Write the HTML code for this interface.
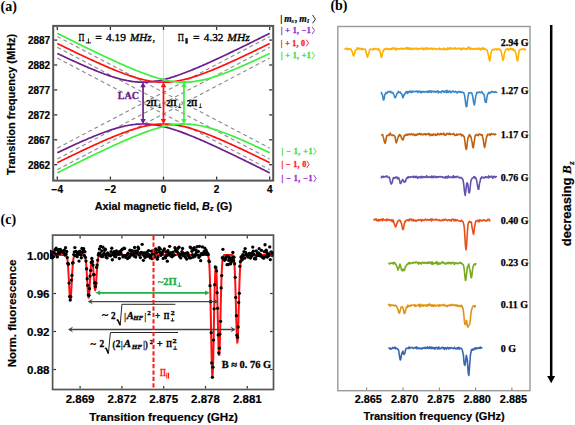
<!DOCTYPE html>
<html><head><meta charset="utf-8"><style>html,body{margin:0;padding:0;background:#fff;overflow:hidden}svg{display:block}</style></head>
<body><svg width="575" height="425" viewBox="0 0 575 425"><rect x="0" y="0" width="575" height="425" fill="#fff"/>
<line x1="163.5" y1="27" x2="163.5" y2="179.6" stroke="#d8d8d8" stroke-width="1"/>
<path d="M57.30,148.15 L269.70,36.51" stroke="#8a8a8a" stroke-width="1.1" stroke-dasharray="4,3" fill="none"/>
<path d="M57.30,58.04 L269.70,169.68" stroke="#8a8a8a" stroke-width="1.1" stroke-dasharray="4,3" fill="none"/>
<path d="M57.30,158.92 L269.70,47.28" stroke="#8a8a8a" stroke-width="1.1" stroke-dasharray="4,3" fill="none"/>
<path d="M57.30,47.28 L269.70,158.92" stroke="#8a8a8a" stroke-width="1.1" stroke-dasharray="4,3" fill="none"/>
<path d="M57.30,169.68 L269.70,58.04" stroke="#8a8a8a" stroke-width="1.1" stroke-dasharray="4,3" fill="none"/>
<path d="M57.30,36.51 L269.70,148.15" stroke="#8a8a8a" stroke-width="1.1" stroke-dasharray="4,3" fill="none"/>
<path d="M57.30,53.44 L58.63,54.07 L59.95,54.70 L61.28,55.33 L62.61,55.96 L63.94,56.58 L65.26,57.20 L66.59,57.82 L67.92,58.44 L69.25,59.06 L70.58,59.67 L71.90,60.28 L73.23,60.89 L74.56,61.49 L75.89,62.09 L77.21,62.69 L78.54,63.29 L79.87,63.88 L81.19,64.47 L82.52,65.06 L83.85,65.64 L85.18,66.21 L86.50,66.79 L87.83,67.36 L89.16,67.92 L90.49,68.48 L91.81,69.03 L93.14,69.58 L94.47,70.12 L95.80,70.66 L97.12,71.19 L98.45,71.72 L99.78,72.23 L101.11,72.74 L102.44,73.25 L103.76,73.74 L105.09,74.23 L106.42,74.70 L107.75,75.17 L109.07,75.63 L110.40,76.08 L111.73,76.52 L113.06,76.94 L114.38,77.36 L115.71,77.76 L117.04,78.15 L118.37,78.52 L119.69,78.88 L121.02,79.23 L122.35,79.56 L123.67,79.87 L125.00,80.17 L126.33,80.45 L127.66,80.71 L128.99,80.95 L130.31,81.17 L131.64,81.38 L132.97,81.56 L134.30,81.72 L135.62,81.86 L136.95,81.97 L138.28,82.07 L139.60,82.14 L140.93,82.19 L142.26,82.21 L143.59,82.21 L144.92,82.19 L146.24,82.15 L147.57,82.08 L148.90,81.99 L150.22,81.87 L151.55,81.74 L152.88,81.58 L154.21,81.40 L155.53,81.20 L156.86,80.98 L158.19,80.74 L159.52,80.49 L160.84,80.21 L162.17,79.91 L163.50,79.60 L164.83,79.28 L166.16,78.93 L167.48,78.57 L168.81,78.20 L170.14,77.81 L171.47,77.41 L172.79,77.00 L174.12,76.58 L175.45,76.14 L176.78,75.69 L178.10,75.24 L179.43,74.77 L180.76,74.30 L182.09,73.81 L183.41,73.32 L184.74,72.82 L186.07,72.31 L187.40,71.79 L188.72,71.27 L190.05,70.74 L191.38,70.20 L192.71,69.66 L194.03,69.11 L195.36,68.56 L196.69,68.00 L198.02,67.44 L199.34,66.87 L200.67,66.30 L202.00,65.72 L203.32,65.14 L204.65,64.55 L205.98,63.97 L207.31,63.37 L208.63,62.78 L209.96,62.18 L211.29,61.58 L212.62,60.97 L213.94,60.37 L215.27,59.76 L216.60,59.14 L217.93,58.53 L219.26,57.91 L220.58,57.29 L221.91,56.67 L223.24,56.05 L224.57,55.42 L225.89,54.79 L227.22,54.16 L228.55,53.53 L229.88,52.89 L231.20,52.26 L232.53,51.62 L233.86,50.98 L235.19,50.34 L236.51,49.70 L237.84,49.06 L239.17,48.42 L240.50,47.77 L241.82,47.12 L243.15,46.48 L244.48,45.83 L245.81,45.18 L247.13,44.52 L248.46,43.87 L249.79,43.22 L251.12,42.56 L252.44,41.91 L253.77,41.25 L255.10,40.60 L256.43,39.94 L257.75,39.28 L259.08,38.62 L260.41,37.96 L261.74,37.30 L263.06,36.63 L264.39,35.97 L265.72,35.31 L267.05,34.64 L268.37,33.98 L269.70,33.31" stroke="#6e1e8c" stroke-width="1.7" fill="none"/>
<path d="M57.30,152.76 L58.63,152.13 L59.95,151.49 L61.28,150.87 L62.61,150.24 L63.94,149.62 L65.26,148.99 L66.59,148.37 L67.92,147.75 L69.25,147.14 L70.58,146.53 L71.90,145.92 L73.23,145.31 L74.56,144.70 L75.89,144.10 L77.21,143.50 L78.54,142.91 L79.87,142.31 L81.19,141.73 L82.52,141.14 L83.85,140.56 L85.18,139.98 L86.50,139.41 L87.83,138.84 L89.16,138.28 L90.49,137.72 L91.81,137.16 L93.14,136.61 L94.47,136.07 L95.80,135.53 L97.12,135.00 L98.45,134.48 L99.78,133.96 L101.11,133.45 L102.44,132.95 L103.76,132.46 L105.09,131.97 L106.42,131.49 L107.75,131.02 L109.07,130.57 L110.40,130.12 L111.73,129.68 L113.06,129.25 L114.38,128.84 L115.71,128.44 L117.04,128.05 L118.37,127.67 L119.69,127.31 L121.02,126.97 L122.35,126.64 L123.67,126.32 L125.00,126.03 L126.33,125.75 L127.66,125.49 L128.99,125.25 L130.31,125.02 L131.64,124.82 L132.97,124.64 L134.30,124.48 L135.62,124.34 L136.95,124.22 L138.28,124.13 L139.60,124.06 L140.93,124.01 L142.26,123.98 L143.59,123.98 L144.92,124.00 L146.24,124.05 L147.57,124.12 L148.90,124.21 L150.22,124.32 L151.55,124.46 L152.88,124.61 L154.21,124.79 L155.53,124.99 L156.86,125.21 L158.19,125.45 L159.52,125.71 L160.84,125.99 L162.17,126.28 L163.50,126.59 L164.83,126.92 L166.16,127.26 L167.48,127.62 L168.81,128.00 L170.14,128.38 L171.47,128.78 L172.79,129.19 L174.12,129.62 L175.45,130.05 L176.78,130.50 L178.10,130.96 L179.43,131.42 L180.76,131.90 L182.09,132.39 L183.41,132.88 L184.74,133.38 L186.07,133.89 L187.40,134.41 L188.72,134.93 L190.05,135.46 L191.38,135.99 L192.71,136.54 L194.03,137.08 L195.36,137.64 L196.69,138.20 L198.02,138.76 L199.34,139.33 L200.67,139.90 L202.00,140.48 L203.32,141.06 L204.65,141.64 L205.98,142.23 L207.31,142.82 L208.63,143.42 L209.96,144.02 L211.29,144.62 L212.62,145.22 L213.94,145.83 L215.27,146.44 L216.60,147.05 L217.93,147.67 L219.26,148.28 L220.58,148.90 L221.91,149.53 L223.24,150.15 L224.57,150.78 L225.89,151.40 L227.22,152.04 L228.55,152.67 L229.88,153.30 L231.20,153.94 L232.53,154.57 L233.86,155.21 L235.19,155.85 L236.51,156.49 L237.84,157.14 L239.17,157.78 L240.50,158.43 L241.82,159.07 L243.15,159.72 L244.48,160.37 L245.81,161.02 L247.13,161.67 L248.46,162.32 L249.79,162.98 L251.12,163.63 L252.44,164.29 L253.77,164.94 L255.10,165.60 L256.43,166.26 L257.75,166.92 L259.08,167.58 L260.41,168.24 L261.74,168.90 L263.06,169.56 L264.39,170.22 L265.72,170.89 L267.05,171.55 L268.37,172.22 L269.70,172.88" stroke="#6e1e8c" stroke-width="1.7" fill="none"/>
<path d="M57.30,43.50 L58.63,44.15 L59.95,44.80 L61.28,45.45 L62.61,46.10 L63.94,46.75 L65.26,47.40 L66.59,48.05 L67.92,48.69 L69.25,49.34 L70.58,49.98 L71.90,50.62 L73.23,51.26 L74.56,51.90 L75.89,52.53 L77.21,53.17 L78.54,53.80 L79.87,54.43 L81.19,55.06 L82.52,55.69 L83.85,56.31 L85.18,56.94 L86.50,57.56 L87.83,58.18 L89.16,58.79 L90.49,59.41 L91.81,60.02 L93.14,60.63 L94.47,61.23 L95.80,61.84 L97.12,62.44 L98.45,63.03 L99.78,63.63 L101.11,64.22 L102.44,64.81 L103.76,65.39 L105.09,65.97 L106.42,66.54 L107.75,67.11 L109.07,67.68 L110.40,68.24 L111.73,68.80 L113.06,69.35 L114.38,69.89 L115.71,70.43 L117.04,70.97 L118.37,71.49 L119.69,72.01 L121.02,72.53 L122.35,73.03 L123.67,73.53 L125.00,74.02 L126.33,74.50 L127.66,74.97 L128.99,75.44 L130.31,75.89 L131.64,76.33 L132.97,76.76 L134.30,77.18 L135.62,77.59 L136.95,77.98 L138.28,78.36 L139.60,78.73 L140.93,79.08 L142.26,79.42 L143.59,79.74 L144.92,80.04 L146.24,80.33 L147.57,80.60 L148.90,80.85 L150.22,81.08 L151.55,81.29 L152.88,81.48 L154.21,81.65 L155.53,81.80 L156.86,81.93 L158.19,82.03 L159.52,82.11 L160.84,82.17 L162.17,82.20 L163.50,82.21 L164.83,82.20 L166.16,82.17 L167.48,82.11 L168.81,82.03 L170.14,81.93 L171.47,81.80 L172.79,81.65 L174.12,81.48 L175.45,81.29 L176.78,81.08 L178.10,80.85 L179.43,80.60 L180.76,80.33 L182.09,80.04 L183.41,79.74 L184.74,79.42 L186.07,79.08 L187.40,78.73 L188.72,78.36 L190.05,77.98 L191.38,77.59 L192.71,77.18 L194.03,76.76 L195.36,76.33 L196.69,75.89 L198.02,75.44 L199.34,74.97 L200.67,74.50 L202.00,74.02 L203.32,73.53 L204.65,73.03 L205.98,72.53 L207.31,72.01 L208.63,71.49 L209.96,70.97 L211.29,70.43 L212.62,69.89 L213.94,69.35 L215.27,68.80 L216.60,68.24 L217.93,67.68 L219.26,67.11 L220.58,66.54 L221.91,65.97 L223.24,65.39 L224.57,64.81 L225.89,64.22 L227.22,63.63 L228.55,63.03 L229.88,62.44 L231.20,61.84 L232.53,61.23 L233.86,60.63 L235.19,60.02 L236.51,59.41 L237.84,58.79 L239.17,58.18 L240.50,57.56 L241.82,56.94 L243.15,56.31 L244.48,55.69 L245.81,55.06 L247.13,54.43 L248.46,53.80 L249.79,53.17 L251.12,52.53 L252.44,51.90 L253.77,51.26 L255.10,50.62 L256.43,49.98 L257.75,49.34 L259.08,48.69 L260.41,48.05 L261.74,47.40 L263.06,46.75 L264.39,46.10 L265.72,45.45 L267.05,44.80 L268.37,44.15 L269.70,43.50" stroke="#ff1010" stroke-width="1.7" fill="none"/>
<path d="M57.30,162.70 L58.63,162.04 L59.95,161.39 L61.28,160.74 L62.61,160.09 L63.94,159.44 L65.26,158.80 L66.59,158.15 L67.92,157.50 L69.25,156.86 L70.58,156.22 L71.90,155.58 L73.23,154.94 L74.56,154.30 L75.89,153.66 L77.21,153.03 L78.54,152.40 L79.87,151.76 L81.19,151.14 L82.52,150.51 L83.85,149.88 L85.18,149.26 L86.50,148.64 L87.83,148.02 L89.16,147.40 L90.49,146.79 L91.81,146.18 L93.14,145.57 L94.47,144.96 L95.80,144.36 L97.12,143.76 L98.45,143.16 L99.78,142.57 L101.11,141.98 L102.44,141.39 L103.76,140.81 L105.09,140.23 L106.42,139.65 L107.75,139.08 L109.07,138.52 L110.40,137.96 L111.73,137.40 L113.06,136.85 L114.38,136.30 L115.71,135.76 L117.04,135.23 L118.37,134.70 L119.69,134.18 L121.02,133.67 L122.35,133.16 L123.67,132.67 L125.00,132.18 L126.33,131.70 L127.66,131.22 L128.99,130.76 L130.31,130.31 L131.64,129.87 L132.97,129.44 L134.30,129.02 L135.62,128.61 L136.95,128.21 L138.28,127.83 L139.60,127.47 L140.93,127.11 L142.26,126.78 L143.59,126.46 L144.92,126.15 L146.24,125.87 L147.57,125.60 L148.90,125.35 L150.22,125.12 L151.55,124.90 L152.88,124.71 L154.21,124.54 L155.53,124.40 L156.86,124.27 L158.19,124.17 L159.52,124.09 L160.84,124.03 L162.17,123.99 L163.50,123.98 L164.83,123.99 L166.16,124.03 L167.48,124.09 L168.81,124.17 L170.14,124.27 L171.47,124.40 L172.79,124.54 L174.12,124.71 L175.45,124.90 L176.78,125.12 L178.10,125.35 L179.43,125.60 L180.76,125.87 L182.09,126.15 L183.41,126.46 L184.74,126.78 L186.07,127.11 L187.40,127.47 L188.72,127.83 L190.05,128.21 L191.38,128.61 L192.71,129.02 L194.03,129.44 L195.36,129.87 L196.69,130.31 L198.02,130.76 L199.34,131.22 L200.67,131.70 L202.00,132.18 L203.32,132.67 L204.65,133.16 L205.98,133.67 L207.31,134.18 L208.63,134.70 L209.96,135.23 L211.29,135.76 L212.62,136.30 L213.94,136.85 L215.27,137.40 L216.60,137.96 L217.93,138.52 L219.26,139.08 L220.58,139.65 L221.91,140.23 L223.24,140.81 L224.57,141.39 L225.89,141.98 L227.22,142.57 L228.55,143.16 L229.88,143.76 L231.20,144.36 L232.53,144.96 L233.86,145.57 L235.19,146.18 L236.51,146.79 L237.84,147.40 L239.17,148.02 L240.50,148.64 L241.82,149.26 L243.15,149.88 L244.48,150.51 L245.81,151.14 L247.13,151.76 L248.46,152.40 L249.79,153.03 L251.12,153.66 L252.44,154.30 L253.77,154.94 L255.10,155.58 L256.43,156.22 L257.75,156.86 L259.08,157.50 L260.41,158.15 L261.74,158.80 L263.06,159.44 L264.39,160.09 L265.72,160.74 L267.05,161.39 L268.37,162.04 L269.70,162.70" stroke="#ff1010" stroke-width="1.7" fill="none"/>
<path d="M57.30,33.31 L58.63,33.98 L59.95,34.64 L61.28,35.31 L62.61,35.97 L63.94,36.63 L65.26,37.30 L66.59,37.96 L67.92,38.62 L69.25,39.28 L70.58,39.94 L71.90,40.60 L73.23,41.25 L74.56,41.91 L75.89,42.56 L77.21,43.22 L78.54,43.87 L79.87,44.52 L81.19,45.18 L82.52,45.83 L83.85,46.48 L85.18,47.12 L86.50,47.77 L87.83,48.42 L89.16,49.06 L90.49,49.70 L91.81,50.34 L93.14,50.98 L94.47,51.62 L95.80,52.26 L97.12,52.89 L98.45,53.53 L99.78,54.16 L101.11,54.79 L102.44,55.42 L103.76,56.05 L105.09,56.67 L106.42,57.29 L107.75,57.91 L109.07,58.53 L110.40,59.14 L111.73,59.76 L113.06,60.37 L114.38,60.97 L115.71,61.58 L117.04,62.18 L118.37,62.78 L119.69,63.37 L121.02,63.97 L122.35,64.55 L123.67,65.14 L125.00,65.72 L126.33,66.30 L127.66,66.87 L128.99,67.44 L130.31,68.00 L131.64,68.56 L132.97,69.11 L134.30,69.66 L135.62,70.20 L136.95,70.74 L138.28,71.27 L139.60,71.79 L140.93,72.31 L142.26,72.82 L143.59,73.32 L144.92,73.81 L146.24,74.30 L147.57,74.77 L148.90,75.24 L150.22,75.69 L151.55,76.14 L152.88,76.58 L154.21,77.00 L155.53,77.41 L156.86,77.81 L158.19,78.20 L159.52,78.57 L160.84,78.93 L162.17,79.28 L163.50,79.60 L164.83,79.91 L166.16,80.21 L167.48,80.49 L168.81,80.74 L170.14,80.98 L171.47,81.20 L172.79,81.40 L174.12,81.58 L175.45,81.74 L176.78,81.87 L178.10,81.99 L179.43,82.08 L180.76,82.15 L182.09,82.19 L183.41,82.21 L184.74,82.21 L186.07,82.19 L187.40,82.14 L188.72,82.07 L190.05,81.97 L191.38,81.86 L192.71,81.72 L194.03,81.56 L195.36,81.38 L196.69,81.17 L198.02,80.95 L199.34,80.71 L200.67,80.45 L202.00,80.17 L203.32,79.87 L204.65,79.56 L205.98,79.23 L207.31,78.88 L208.63,78.52 L209.96,78.15 L211.29,77.76 L212.62,77.36 L213.94,76.94 L215.27,76.52 L216.60,76.08 L217.93,75.63 L219.26,75.17 L220.58,74.70 L221.91,74.23 L223.24,73.74 L224.57,73.25 L225.89,72.74 L227.22,72.23 L228.55,71.72 L229.88,71.19 L231.20,70.66 L232.53,70.12 L233.86,69.58 L235.19,69.03 L236.51,68.48 L237.84,67.92 L239.17,67.36 L240.50,66.79 L241.82,66.21 L243.15,65.64 L244.48,65.06 L245.81,64.47 L247.13,63.88 L248.46,63.29 L249.79,62.69 L251.12,62.09 L252.44,61.49 L253.77,60.89 L255.10,60.28 L256.43,59.67 L257.75,59.06 L259.08,58.44 L260.41,57.82 L261.74,57.20 L263.06,56.58 L264.39,55.96 L265.72,55.33 L267.05,54.70 L268.37,54.07 L269.70,53.44" stroke="#3df03d" stroke-width="1.7" fill="none"/>
<path d="M57.30,172.88 L58.63,172.22 L59.95,171.55 L61.28,170.89 L62.61,170.22 L63.94,169.56 L65.26,168.90 L66.59,168.24 L67.92,167.58 L69.25,166.92 L70.58,166.26 L71.90,165.60 L73.23,164.94 L74.56,164.29 L75.89,163.63 L77.21,162.98 L78.54,162.32 L79.87,161.67 L81.19,161.02 L82.52,160.37 L83.85,159.72 L85.18,159.07 L86.50,158.43 L87.83,157.78 L89.16,157.14 L90.49,156.49 L91.81,155.85 L93.14,155.21 L94.47,154.57 L95.80,153.94 L97.12,153.30 L98.45,152.67 L99.78,152.04 L101.11,151.40 L102.44,150.78 L103.76,150.15 L105.09,149.53 L106.42,148.90 L107.75,148.28 L109.07,147.67 L110.40,147.05 L111.73,146.44 L113.06,145.83 L114.38,145.22 L115.71,144.62 L117.04,144.02 L118.37,143.42 L119.69,142.82 L121.02,142.23 L122.35,141.64 L123.67,141.06 L125.00,140.48 L126.33,139.90 L127.66,139.33 L128.99,138.76 L130.31,138.20 L131.64,137.64 L132.97,137.08 L134.30,136.54 L135.62,135.99 L136.95,135.46 L138.28,134.93 L139.60,134.41 L140.93,133.89 L142.26,133.38 L143.59,132.88 L144.92,132.39 L146.24,131.90 L147.57,131.42 L148.90,130.96 L150.22,130.50 L151.55,130.05 L152.88,129.62 L154.21,129.19 L155.53,128.78 L156.86,128.38 L158.19,128.00 L159.52,127.62 L160.84,127.26 L162.17,126.92 L163.50,126.59 L164.83,126.28 L166.16,125.99 L167.48,125.71 L168.81,125.45 L170.14,125.21 L171.47,124.99 L172.79,124.79 L174.12,124.61 L175.45,124.46 L176.78,124.32 L178.10,124.21 L179.43,124.12 L180.76,124.05 L182.09,124.00 L183.41,123.98 L184.74,123.98 L186.07,124.01 L187.40,124.06 L188.72,124.13 L190.05,124.22 L191.38,124.34 L192.71,124.48 L194.03,124.64 L195.36,124.82 L196.69,125.02 L198.02,125.25 L199.34,125.49 L200.67,125.75 L202.00,126.03 L203.32,126.32 L204.65,126.64 L205.98,126.97 L207.31,127.31 L208.63,127.67 L209.96,128.05 L211.29,128.44 L212.62,128.84 L213.94,129.25 L215.27,129.68 L216.60,130.12 L217.93,130.57 L219.26,131.02 L220.58,131.49 L221.91,131.97 L223.24,132.46 L224.57,132.95 L225.89,133.45 L227.22,133.96 L228.55,134.48 L229.88,135.00 L231.20,135.53 L232.53,136.07 L233.86,136.61 L235.19,137.16 L236.51,137.72 L237.84,138.28 L239.17,138.84 L240.50,139.41 L241.82,139.98 L243.15,140.56 L244.48,141.14 L245.81,141.73 L247.13,142.31 L248.46,142.91 L249.79,143.50 L251.12,144.10 L252.44,144.70 L253.77,145.31 L255.10,145.92 L256.43,146.53 L257.75,147.14 L259.08,147.75 L260.41,148.37 L261.74,148.99 L263.06,149.62 L264.39,150.24 L265.72,150.87 L267.05,151.49 L268.37,152.13 L269.70,152.76" stroke="#3df03d" stroke-width="1.7" fill="none"/>
<rect x="53.2" y="25.9" width="220" height="154.7" fill="none" stroke="#555" stroke-width="2"/>
<line x1="57.3" y1="179.6" x2="57.3" y2="176.6" stroke="#333" stroke-width="1.3"/>
<line x1="57.3" y1="26.9" x2="57.3" y2="29.9" stroke="#333" stroke-width="1.3"/>
<text x="57.3" y="193.2" font-family='"Liberation Sans", sans-serif' font-size="10" font-weight="bold" text-anchor="middle" stroke="#000" stroke-width="0.2">−4</text>
<line x1="110.4" y1="179.6" x2="110.4" y2="176.6" stroke="#333" stroke-width="1.3"/>
<line x1="110.4" y1="26.9" x2="110.4" y2="29.9" stroke="#333" stroke-width="1.3"/>
<text x="110.4" y="193.2" font-family='"Liberation Sans", sans-serif' font-size="10" font-weight="bold" text-anchor="middle" stroke="#000" stroke-width="0.2">−2</text>
<line x1="163.5" y1="179.6" x2="163.5" y2="176.6" stroke="#333" stroke-width="1.3"/>
<line x1="163.5" y1="26.9" x2="163.5" y2="29.9" stroke="#333" stroke-width="1.3"/>
<text x="163.5" y="193.2" font-family='"Liberation Sans", sans-serif' font-size="10" font-weight="bold" text-anchor="middle" stroke="#000" stroke-width="0.2">0</text>
<line x1="216.6" y1="179.6" x2="216.6" y2="176.6" stroke="#333" stroke-width="1.3"/>
<line x1="216.6" y1="26.9" x2="216.6" y2="29.9" stroke="#333" stroke-width="1.3"/>
<text x="216.6" y="193.2" font-family='"Liberation Sans", sans-serif' font-size="10" font-weight="bold" text-anchor="middle" stroke="#000" stroke-width="0.2">2</text>
<line x1="269.7" y1="179.6" x2="269.7" y2="176.6" stroke="#333" stroke-width="1.3"/>
<line x1="269.7" y1="26.9" x2="269.7" y2="29.9" stroke="#333" stroke-width="1.3"/>
<text x="269.7" y="193.2" font-family='"Liberation Sans", sans-serif' font-size="10" font-weight="bold" text-anchor="middle" stroke="#000" stroke-width="0.2">4</text>
<line x1="54.2" y1="164.7" x2="57.2" y2="164.7" stroke="#333" stroke-width="1.3"/>
<line x1="272.2" y1="164.7" x2="269.2" y2="164.7" stroke="#333" stroke-width="1.3"/>
<text x="50.2" y="168.6" font-family='"Liberation Sans", sans-serif' font-size="10" font-weight="bold" text-anchor="end" stroke="#000" stroke-width="0.2">2862</text>
<line x1="54.2" y1="139.8" x2="57.2" y2="139.8" stroke="#333" stroke-width="1.3"/>
<line x1="272.2" y1="139.8" x2="269.2" y2="139.8" stroke="#333" stroke-width="1.3"/>
<text x="50.2" y="143.7" font-family='"Liberation Sans", sans-serif' font-size="10" font-weight="bold" text-anchor="end" stroke="#000" stroke-width="0.2">2867</text>
<line x1="54.2" y1="114.9" x2="57.2" y2="114.9" stroke="#333" stroke-width="1.3"/>
<line x1="272.2" y1="114.9" x2="269.2" y2="114.9" stroke="#333" stroke-width="1.3"/>
<text x="50.2" y="118.8" font-family='"Liberation Sans", sans-serif' font-size="10" font-weight="bold" text-anchor="end" stroke="#000" stroke-width="0.2">2872</text>
<line x1="54.2" y1="89.9" x2="57.2" y2="89.9" stroke="#333" stroke-width="1.3"/>
<line x1="272.2" y1="89.9" x2="269.2" y2="89.9" stroke="#333" stroke-width="1.3"/>
<text x="50.2" y="93.8" font-family='"Liberation Sans", sans-serif' font-size="10" font-weight="bold" text-anchor="end" stroke="#000" stroke-width="0.2">2877</text>
<line x1="54.2" y1="65.0" x2="57.2" y2="65.0" stroke="#333" stroke-width="1.3"/>
<line x1="272.2" y1="65.0" x2="269.2" y2="65.0" stroke="#333" stroke-width="1.3"/>
<text x="50.2" y="68.9" font-family='"Liberation Sans", sans-serif' font-size="10" font-weight="bold" text-anchor="end" stroke="#000" stroke-width="0.2">2882</text>
<line x1="54.2" y1="40.1" x2="57.2" y2="40.1" stroke="#333" stroke-width="1.3"/>
<line x1="272.2" y1="40.1" x2="269.2" y2="40.1" stroke="#333" stroke-width="1.3"/>
<text x="50.2" y="44.0" font-family='"Liberation Sans", sans-serif' font-size="10" font-weight="bold" text-anchor="end" stroke="#000" stroke-width="0.2">2887</text>
<text x="94.8" y="209.9" font-family='"Liberation Sans", sans-serif' font-size="10.8" font-weight="bold" textLength="137.3" lengthAdjust="spacingAndGlyphs" stroke="#000" stroke-width="0.2">Axial magnetic field, <tspan font-style="italic">B<tspan font-size="7.5" dy="1.5">z</tspan></tspan><tspan dy="-1.5"> (G)</tspan></text>
<text transform="translate(15.2,104.3) rotate(-90)" font-family='"Liberation Sans", sans-serif' font-size="11" font-weight="bold" text-anchor="middle" stroke="#000" stroke-width="0.2">Transition frequency (MHz)</text>
<line x1="143.0565" y1="86.8147999999991" x2="143.0565" y2="119.38071999999964" stroke="#6e1e8c" stroke-width="1.7"/><path d="M143.0565,81.91479999999909 L140.3565,87.3147999999991 L145.7565,87.3147999999991 Z" fill="#6e1e8c"/><path d="M143.0565,124.28071999999965 L140.3565,118.88071999999964 L145.7565,118.88071999999964 Z" fill="#6e1e8c"/>
<line x1="163.5" y1="86.8147999999991" x2="163.5" y2="119.38071999999964" stroke="#ff1010" stroke-width="1.7"/><path d="M163.5,81.91479999999909 L160.8,87.3147999999991 L166.2,87.3147999999991 Z" fill="#ff1010"/><path d="M163.5,124.28071999999965 L160.8,118.88071999999964 L166.2,118.88071999999964 Z" fill="#ff1010"/>
<line x1="183.9435" y1="86.8147999999991" x2="183.9435" y2="119.38071999999964" stroke="#3df03d" stroke-width="1.7"/><path d="M183.9435,81.91479999999909 L181.2435,87.3147999999991 L186.6435,87.3147999999991 Z" fill="#3df03d"/><path d="M183.9435,124.28071999999965 L181.2435,118.88071999999964 L186.6435,118.88071999999964 Z" fill="#3df03d"/>
<text x="117.8" y="99.1" font-family='"Liberation Serif", serif' font-size="10.4" font-weight="bold" fill="#6a1b8a" textLength="21.2" lengthAdjust="spacingAndGlyphs" stroke="#6a1b8a" stroke-width="0.3">LAC</text>
<text x="146.4" y="106.1" font-family='"Liberation Serif", serif' font-size="8.4" font-weight="bold" textLength="10.2" lengthAdjust="spacingAndGlyphs" stroke="#000" stroke-width="0.35">2Π</text>
<path d="M159.85,103.40 L159.85,107.90 M158.30,107.53 L161.40,107.53" stroke="#000" stroke-width="0.75" fill="none"/>
<text x="166.3" y="106.1" font-family='"Liberation Serif", serif' font-size="8.4" font-weight="bold" textLength="10.2" lengthAdjust="spacingAndGlyphs" stroke="#000" stroke-width="0.35">2Π</text>
<path d="M179.75,103.40 L179.75,107.90 M178.20,107.53 L181.30,107.53" stroke="#000" stroke-width="0.75" fill="none"/>
<text x="186.9" y="106.1" font-family='"Liberation Serif", serif' font-size="8.4" font-weight="bold" textLength="10.2" lengthAdjust="spacingAndGlyphs" stroke="#000" stroke-width="0.35">2Π</text>
<path d="M200.35,103.40 L200.35,107.90 M198.80,107.53 L201.90,107.53" stroke="#000" stroke-width="0.75" fill="none"/>
<text x="78.5" y="41.2" font-family='"Liberation Serif", serif' font-size="10.5" textLength="5.9" lengthAdjust="spacingAndGlyphs" stroke="#000" stroke-width="0.35">Π</text>
<path d="M88.40,38.40 L88.40,43.30 M85.80,42.85 L91.00,42.85" stroke="#000" stroke-width="0.9" fill="none"/>
<text x="95.2" y="41.2" font-family='"Liberation Serif", serif' font-size="10.5" textLength="6.6" lengthAdjust="spacingAndGlyphs" stroke="#000" stroke-width="0.35">=</text>
<text x="106" y="41.2" font-family='"Liberation Serif", serif' font-size="10.5" textLength="20.1" lengthAdjust="spacingAndGlyphs" stroke="#000" stroke-width="0.35">4.19</text>
<text x="130" y="41.2" font-family='"Liberation Serif", serif' font-size="10.5" font-style="italic" textLength="21.7" lengthAdjust="spacingAndGlyphs" stroke="#000" stroke-width="0.35">MHz</text>
<text x="152.4" y="41.2" font-family='"Liberation Serif", serif' font-size="10.5" stroke="#000" stroke-width="0.35">,</text>
<text x="177.8" y="41.2" font-family='"Liberation Serif", serif' font-size="10.5" textLength="6.2" lengthAdjust="spacingAndGlyphs" stroke="#000" stroke-width="0.35">Π</text>
<rect x="185.4" y="38.1" width="2.3" height="5.6" fill="#111"/>
<text x="193.1" y="41.2" font-family='"Liberation Serif", serif' font-size="10.5" textLength="6.6" lengthAdjust="spacingAndGlyphs" stroke="#000" stroke-width="0.35">=</text>
<text x="203.8" y="41.2" font-family='"Liberation Serif", serif' font-size="10.5" textLength="19.6" lengthAdjust="spacingAndGlyphs" stroke="#000" stroke-width="0.35">4.32</text>
<text x="227.3" y="41.2" font-family='"Liberation Serif", serif' font-size="10.5" font-style="italic" textLength="22.5" lengthAdjust="spacingAndGlyphs" stroke="#000" stroke-width="0.35">MHz</text>
<text x="280.2" y="22.3" font-family='"Liberation Serif", serif' font-size="9.6" font-weight="bold" stroke="#000" stroke-width="0.2">|</text>
<text x="284.3" y="21.6" font-family='"Liberation Serif", serif' font-size="9.6" font-weight="bold" font-style="italic" stroke="#000" stroke-width="0.2">m</text>
<text x="291.6" y="23.4" font-family='"Liberation Serif", serif' font-size="6.5" font-weight="bold" font-style="italic" stroke="#000" stroke-width="0.15">s</text>
<text x="294.8" y="21.6" font-family='"Liberation Serif", serif' font-size="9.6" font-weight="bold" stroke="#000" stroke-width="0.2">,</text>
<text x="299.2" y="21.6" font-family='"Liberation Serif", serif' font-size="9.6" font-weight="bold" font-style="italic" stroke="#000" stroke-width="0.2">m</text>
<text x="306.8" y="23.4" font-family='"Liberation Serif", serif' font-size="6.5" font-weight="bold" font-style="italic" stroke="#000" stroke-width="0.15">I</text>
<path d="M312.60,15.00 L315.40,19.15 L312.60,23.30" stroke="#111" stroke-width="0.9" fill="none" stroke-linejoin="miter"/>
<text x="280.8" y="32.9" font-family='"Liberation Serif", serif' font-size="8" font-weight="bold" fill="#9428c8" textLength="29.9" lengthAdjust="spacing" stroke="#9428c8" stroke-width="0.3">| + 1, −1</text>
<path d="M312.10,26.80 L314.50,30.45 L312.10,34.10" stroke="#9428c8" stroke-width="0.9" fill="none" stroke-linejoin="miter"/>
<text x="280.8" y="45.6" font-family='"Liberation Serif", serif' font-size="8" font-weight="bold" fill="#ff2020" textLength="24.3" lengthAdjust="spacing" stroke="#ff2020" stroke-width="0.3">| + 1, 0</text>
<path d="M306.20,39.70 L308.60,43.00 L306.20,46.30" stroke="#ff2020" stroke-width="0.9" fill="none" stroke-linejoin="miter"/>
<text x="280.8" y="58.2" font-family='"Liberation Serif", serif' font-size="8" font-weight="bold" fill="#38e038" textLength="29.9" lengthAdjust="spacing" stroke="#38e038" stroke-width="0.3">| + 1, +1</text>
<path d="M312.10,52.00 L314.50,55.40 L312.10,58.80" stroke="#38e038" stroke-width="0.9" fill="none" stroke-linejoin="miter"/>
<text x="281.5" y="153.9" font-family='"Liberation Serif", serif' font-size="8" font-weight="bold" fill="#38e038" textLength="30.9" lengthAdjust="spacing" stroke="#38e038" stroke-width="0.3">|  −  1, +1</text>
<path d="M313.70,147.70 L316.10,151.25 L313.70,154.80" stroke="#38e038" stroke-width="0.9" fill="none" stroke-linejoin="miter"/>
<text x="281.5" y="167" font-family='"Liberation Serif", serif' font-size="8" font-weight="bold" fill="#ff2020" textLength="24.8" lengthAdjust="spacing" stroke="#ff2020" stroke-width="0.3">|  −  1, 0</text>
<path d="M306.80,160.80 L309.20,164.35 L306.80,167.90" stroke="#ff2020" stroke-width="0.9" fill="none" stroke-linejoin="miter"/>
<text x="281.5" y="181.2" font-family='"Liberation Serif", serif' font-size="8" font-weight="bold" fill="#9428c8" textLength="30.9" lengthAdjust="spacing" stroke="#9428c8" stroke-width="0.3">|  −  1, −1</text>
<path d="M313.70,175.00 L316.10,178.55 L313.70,182.10" stroke="#9428c8" stroke-width="0.9" fill="none" stroke-linejoin="miter"/>
<text x="0.5" y="10.8" font-family='"Liberation Serif", serif' font-size="14" font-weight="bold">(a)</text>
<text x="330.4" y="10.4" font-family='"Liberation Serif", serif' font-size="14" font-weight="bold">(b)</text>
<text x="0.5" y="224.4" font-family='"Liberation Serif", serif' font-size="14" font-weight="bold">(c)</text>
<rect x="337.8" y="26.5" width="192.2" height="364.2" fill="none" stroke="#9a9a9a" stroke-width="1.4"/>
<line x1="366.7" y1="390" x2="366.7" y2="387.5" stroke="#777" stroke-width="1"/>
<text x="368.3" y="403.2" font-family='"Liberation Sans", sans-serif' font-size="10.9" font-weight="bold" text-anchor="middle" stroke="#000" stroke-width="0.2">2.865</text>
<line x1="403.0" y1="390" x2="403.0" y2="387.5" stroke="#777" stroke-width="1"/>
<text x="404.6" y="403.2" font-family='"Liberation Sans", sans-serif' font-size="10.9" font-weight="bold" text-anchor="middle" stroke="#000" stroke-width="0.2">2.870</text>
<line x1="439.3" y1="390" x2="439.3" y2="387.5" stroke="#777" stroke-width="1"/>
<text x="440.9" y="403.2" font-family='"Liberation Sans", sans-serif' font-size="10.9" font-weight="bold" text-anchor="middle" stroke="#000" stroke-width="0.2">2.875</text>
<line x1="475.6" y1="390" x2="475.6" y2="387.5" stroke="#777" stroke-width="1"/>
<text x="477.2" y="403.2" font-family='"Liberation Sans", sans-serif' font-size="10.9" font-weight="bold" text-anchor="middle" stroke="#000" stroke-width="0.2">2.880</text>
<line x1="511.9" y1="390" x2="511.9" y2="387.5" stroke="#777" stroke-width="1"/>
<text x="513.5" y="403.2" font-family='"Liberation Sans", sans-serif' font-size="10.9" font-weight="bold" text-anchor="middle" stroke="#000" stroke-width="0.2">2.885</text>
<text x="363.5" y="420.3" font-family='"Liberation Sans", sans-serif' font-size="11" font-weight="bold" textLength="141.1" lengthAdjust="spacingAndGlyphs" stroke="#000" stroke-width="0.2">Transition frequency (GHz)</text>
<path d="M344.30,48.87 L344.80,49.04 L345.30,48.73 L345.80,48.40 L346.30,48.65 L346.80,48.37 L347.30,48.96 L347.80,49.69 L348.30,48.70 L348.80,48.67 L349.30,49.32 L349.80,49.31 L350.30,49.27 L350.80,48.90 L351.30,49.83 L351.80,51.14 L352.30,51.62 L352.80,54.28 L353.30,55.38 L353.80,55.94 L354.30,53.97 L354.80,52.64 L355.30,50.34 L355.80,50.15 L356.30,49.58 L356.80,49.17 L357.30,47.78 L357.80,48.80 L358.30,49.03 L358.80,49.09 L359.30,48.17 L359.80,48.74 L360.30,48.46 L360.80,48.55 L361.30,49.59 L361.80,48.57 L362.30,49.02 L362.80,49.55 L363.30,48.78 L363.80,49.11 L364.30,49.34 L364.80,49.54 L365.30,49.34 L365.80,51.09 L366.30,53.53 L366.80,54.14 L367.30,57.14 L367.80,56.51 L368.30,54.20 L368.80,53.48 L369.30,51.20 L369.80,49.22 L370.30,49.49 L370.80,49.57 L371.30,49.05 L371.80,49.47 L372.30,49.02 L372.80,49.40 L373.30,49.80 L373.80,48.63 L374.30,49.11 L374.80,48.74 L375.30,49.07 L375.80,48.36 L376.30,48.72 L376.80,48.96 L377.30,49.60 L377.80,49.81 L378.30,48.58 L378.80,49.13 L379.30,50.51 L379.80,50.23 L380.30,52.94 L380.80,55.35 L381.30,57.48 L381.80,56.52 L382.30,53.90 L382.80,51.78 L383.30,50.39 L383.80,50.57 L384.30,49.13 L384.80,49.02 L385.30,49.29 L385.80,48.98 L386.30,48.89 L386.80,48.36 L387.30,48.94 L387.80,48.68 L388.30,49.55 L388.80,49.26 L389.30,48.87 L389.80,49.25 L390.30,48.68 L390.80,49.44 L391.30,48.86 L391.80,49.18 L392.30,48.14 L392.80,49.04 L393.30,47.92 L393.80,47.72 L394.30,48.67 L394.80,48.34 L395.30,48.92 L395.80,50.07 L396.30,48.37 L396.80,48.49 L397.30,48.94 L397.80,49.10 L398.30,48.73 L398.80,48.71 L399.30,49.21 L399.80,49.11 L400.30,48.25 L400.80,48.78 L401.30,48.84 L401.80,48.24 L402.30,48.96 L402.80,48.35 L403.30,49.35 L403.80,48.92 L404.30,48.87 L404.80,48.49 L405.30,48.75 L405.80,47.72 L406.30,48.19 L406.80,49.01 L407.30,47.64 L407.80,49.28 L408.30,47.85 L408.80,49.23 L409.30,48.35 L409.80,49.24 L410.30,48.88 L410.80,47.97 L411.30,49.50 L411.80,49.60 L412.30,48.77 L412.80,48.66 L413.30,48.72 L413.80,48.27 L414.30,49.41 L414.80,48.51 L415.30,48.78 L415.80,48.37 L416.30,48.47 L416.80,48.11 L417.30,49.50 L417.80,48.72 L418.30,49.34 L418.80,48.82 L419.30,48.43 L419.80,48.63 L420.30,48.50 L420.80,48.81 L421.30,48.60 L421.80,48.64 L422.30,48.05 L422.80,48.36 L423.30,49.72 L423.80,48.44 L424.30,48.23 L424.80,48.99 L425.30,49.58 L425.80,48.01 L426.30,48.69 L426.80,48.46 L427.30,47.84 L427.80,49.21 L428.30,48.80 L428.80,48.85 L429.30,48.39 L429.80,49.06 L430.30,48.51 L430.80,48.73 L431.30,48.20 L431.80,48.14 L432.30,49.54 L432.80,48.53 L433.30,48.97 L433.80,48.79 L434.30,48.57 L434.80,48.53 L435.30,49.15 L435.80,48.64 L436.30,48.72 L436.80,48.82 L437.30,49.46 L437.80,49.18 L438.30,49.02 L438.80,48.50 L439.30,48.05 L439.80,49.33 L440.30,49.34 L440.80,48.73 L441.30,49.11 L441.80,49.24 L442.30,49.27 L442.80,49.32 L443.30,48.56 L443.80,49.64 L444.30,48.12 L444.80,49.28 L445.30,49.08 L445.80,49.29 L446.30,49.84 L446.80,49.63 L447.30,48.18 L447.80,47.88 L448.30,49.26 L448.80,48.25 L449.30,48.80 L449.80,49.27 L450.30,47.91 L450.80,47.65 L451.30,48.95 L451.80,48.84 L452.30,48.68 L452.80,48.83 L453.30,48.34 L453.80,47.98 L454.30,48.72 L454.80,48.28 L455.30,47.91 L455.80,49.09 L456.30,48.78 L456.80,49.04 L457.30,48.27 L457.80,48.45 L458.30,48.26 L458.80,48.33 L459.30,48.92 L459.80,48.38 L460.30,49.01 L460.80,49.00 L461.30,49.93 L461.80,48.05 L462.30,49.31 L462.80,48.77 L463.30,48.81 L463.80,48.02 L464.30,48.57 L464.80,49.23 L465.30,48.78 L465.80,48.87 L466.30,48.66 L466.80,49.46 L467.30,48.81 L467.80,47.61 L468.30,48.44 L468.80,47.74 L469.30,47.04 L469.80,48.54 L470.30,49.56 L470.80,48.86 L471.30,48.19 L471.80,48.32 L472.30,49.46 L472.80,48.92 L473.30,48.87 L473.80,48.81 L474.30,48.86 L474.80,49.29 L475.30,49.15 L475.80,48.97 L476.30,48.28 L476.80,49.14 L477.30,48.49 L477.80,49.47 L478.30,48.17 L478.80,48.80 L479.30,48.88 L479.80,48.16 L480.30,49.85 L480.80,49.71 L481.30,48.67 L481.80,49.36 L482.30,49.16 L482.80,47.54 L483.30,49.14 L483.80,49.00 L484.30,49.12 L484.80,48.53 L485.30,49.04 L485.80,49.20 L486.30,50.12 L486.80,50.00 L487.30,50.57 L487.80,52.97 L488.30,54.44 L488.80,57.85 L489.30,59.57 L489.80,61.11 L490.30,57.93 L490.80,54.66 L491.30,52.13 L491.80,50.46 L492.30,49.88 L492.80,49.33 L493.30,49.21 L493.80,49.27 L494.30,50.02 L494.80,49.45 L495.30,49.09 L495.80,48.79 L496.30,48.76 L496.80,50.00 L497.30,49.41 L497.80,49.20 L498.30,49.01 L498.80,48.65 L499.30,49.32 L499.80,50.00 L500.30,49.65 L500.80,50.50 L501.30,52.05 L501.80,54.84 L502.30,57.21 L502.80,60.47 L503.30,59.80 L503.80,57.91 L504.30,53.75 L504.80,52.09 L505.30,51.25 L505.80,49.59 L506.30,49.14 L506.80,49.43 L507.30,49.24 L507.80,48.63 L508.30,49.39 L508.80,50.22 L509.30,48.95 L509.80,48.97 L510.30,48.51 L510.80,49.26 L511.30,48.41 L511.80,48.51 L512.30,49.86 L512.80,48.71 L513.30,49.87 L513.80,50.23 L514.30,49.75 L514.80,50.38 L515.30,52.18 L515.80,52.95 L516.30,55.72 L516.80,58.55 L517.30,60.87 L517.80,60.10 L518.30,56.57 L518.80,52.53 L519.30,50.61 L519.80,49.77 L520.30,49.73 L520.80,49.24 L521.30,49.34 L521.80,49.31 L522.30,48.92 L522.80,49.02 L523.30,49.12 L523.80,48.93 L524.30,49.24 L524.80,49.97 L525.30,49.25 L525.80,48.94" stroke="#ffb000" stroke-width="1.6" fill="none" stroke-linejoin="round"/>
<text x="500.8" y="46" font-family='"Liberation Serif", serif' font-size="10" font-weight="bold" stroke="#000" stroke-width="0.25">2.94 G</text>
<path d="M381.30,91.93 L381.80,93.98 L382.30,94.30 L382.80,96.76 L383.30,99.91 L383.80,100.05 L384.30,97.91 L384.80,94.84 L385.30,93.84 L385.80,92.64 L386.30,92.86 L386.80,93.53 L387.30,92.30 L387.80,91.70 L388.30,91.45 L388.80,92.04 L389.30,91.96 L389.80,91.43 L390.30,92.13 L390.80,91.46 L391.30,92.74 L391.80,92.78 L392.30,92.93 L392.80,92.37 L393.30,93.55 L393.80,94.38 L394.30,95.94 L394.80,97.64 L395.30,97.64 L395.80,96.44 L396.30,95.88 L396.80,93.83 L397.30,93.11 L397.80,93.08 L398.30,91.38 L398.80,91.83 L399.30,92.34 L399.80,92.50 L400.30,92.21 L400.80,93.31 L401.30,93.57 L401.80,93.99 L402.30,95.68 L402.80,97.80 L403.30,97.45 L403.80,94.81 L404.30,95.08 L404.80,93.54 L405.30,93.31 L405.80,92.05 L406.30,91.96 L406.80,91.43 L407.30,93.40 L407.80,91.87 L408.30,92.82 L408.80,91.57 L409.30,92.00 L409.80,90.98 L410.30,91.68 L410.80,92.42 L411.30,91.18 L411.80,92.46 L412.30,92.05 L412.80,91.28 L413.30,91.58 L413.80,91.60 L414.30,91.82 L414.80,91.55 L415.30,91.39 L415.80,91.67 L416.30,91.27 L416.80,91.13 L417.30,91.81 L417.80,92.32 L418.30,90.99 L418.80,91.83 L419.30,91.47 L419.80,91.29 L420.30,92.30 L420.80,91.54 L421.30,92.65 L421.80,91.40 L422.30,92.04 L422.80,91.70 L423.30,91.41 L423.80,92.15 L424.30,91.74 L424.80,92.16 L425.30,91.80 L425.80,91.23 L426.30,91.77 L426.80,91.85 L427.30,92.35 L427.80,91.32 L428.30,91.80 L428.80,90.88 L429.30,92.18 L429.80,91.23 L430.30,90.83 L430.80,91.79 L431.30,92.43 L431.80,90.98 L432.30,91.22 L432.80,91.41 L433.30,91.20 L433.80,92.03 L434.30,91.38 L434.80,91.43 L435.30,92.14 L435.80,91.41 L436.30,92.06 L436.80,91.29 L437.30,91.16 L437.80,90.82 L438.30,92.85 L438.80,91.65 L439.30,91.96 L439.80,91.81 L440.30,91.92 L440.80,91.86 L441.30,92.88 L441.80,91.26 L442.30,90.97 L442.80,91.28 L443.30,91.10 L443.80,92.25 L444.30,92.29 L444.80,91.31 L445.30,91.07 L445.80,91.64 L446.30,92.61 L446.80,90.29 L447.30,92.13 L447.80,91.25 L448.30,92.42 L448.80,91.26 L449.30,91.69 L449.80,91.03 L450.30,91.32 L450.80,92.62 L451.30,92.31 L451.80,91.65 L452.30,91.39 L452.80,90.83 L453.30,91.66 L453.80,91.87 L454.30,91.84 L454.80,91.84 L455.30,91.29 L455.80,91.88 L456.30,91.90 L456.80,92.64 L457.30,92.97 L457.80,91.88 L458.30,91.55 L458.80,91.96 L459.30,91.69 L459.80,91.64 L460.30,92.05 L460.80,91.56 L461.30,92.52 L461.80,92.21 L462.30,92.50 L462.80,92.41 L463.30,92.37 L463.80,92.79 L464.30,94.35 L464.80,96.48 L465.30,100.60 L465.80,104.81 L466.30,106.80 L466.80,106.34 L467.30,101.54 L467.80,97.86 L468.30,95.21 L468.80,92.71 L469.30,93.23 L469.80,93.00 L470.30,92.74 L470.80,92.63 L471.30,92.86 L471.80,93.07 L472.30,94.71 L472.80,96.88 L473.30,100.61 L473.80,103.23 L474.30,105.05 L474.80,102.74 L475.30,98.98 L475.80,95.77 L476.30,94.41 L476.80,92.23 L477.30,92.96 L477.80,92.64 L478.30,92.55 L478.80,92.54 L479.30,91.92 L479.80,92.12 L480.30,92.61 L480.80,92.51 L481.30,92.41 L481.80,91.53 L482.30,92.76 L482.80,93.31 L483.30,93.67 L483.80,94.25 L484.30,95.19 L484.80,99.49 L485.30,102.08 L485.80,102.29 L486.30,102.35 L486.80,98.13 L487.30,95.29 L487.80,93.72 L488.30,93.75 L488.80,92.38 L489.30,92.51 L489.80,93.20 L490.30,93.04 L490.80,92.04 L491.30,91.92 L491.80,91.33 L492.30,91.61 L492.80,92.20 L493.30,92.17 L493.80,92.00 L494.30,92.47 L494.80,91.49 L495.30,91.87 L495.80,92.30 L496.30,92.21 L496.80,92.47 L497.30,92.09" stroke="#3a87c8" stroke-width="1.6" fill="none" stroke-linejoin="round"/>
<text x="500.8" y="93.6" font-family='"Liberation Serif", serif' font-size="10" font-weight="bold" stroke="#000" stroke-width="0.25">1.27 G</text>
<path d="M381.20,134.50 L381.70,134.99 L382.20,134.48 L382.70,134.64 L383.20,136.93 L383.70,138.46 L384.20,141.21 L384.70,142.34 L385.20,143.33 L385.70,141.24 L386.20,138.51 L386.70,135.70 L387.20,135.55 L387.70,135.64 L388.20,135.09 L388.70,134.43 L389.20,134.68 L389.70,135.06 L390.20,133.11 L390.70,134.54 L391.20,134.91 L391.70,135.01 L392.20,135.59 L392.70,135.33 L393.20,134.97 L393.70,135.15 L394.20,135.83 L394.70,135.98 L395.20,137.79 L395.70,140.40 L396.20,142.82 L396.70,141.87 L397.20,140.34 L397.70,138.37 L398.20,137.35 L398.70,135.63 L399.20,136.03 L399.70,134.58 L400.20,135.13 L400.70,135.57 L401.20,137.05 L401.70,138.65 L402.20,138.85 L402.70,139.93 L403.20,139.82 L403.70,137.64 L404.20,135.66 L404.70,136.08 L405.20,135.26 L405.70,135.01 L406.20,134.36 L406.70,135.12 L407.20,134.38 L407.70,135.08 L408.20,133.96 L408.70,133.97 L409.20,134.53 L409.70,134.02 L410.20,134.77 L410.70,134.53 L411.20,133.87 L411.70,134.41 L412.20,134.18 L412.70,134.87 L413.20,134.01 L413.70,134.11 L414.20,135.02 L414.70,135.58 L415.20,135.45 L415.70,134.38 L416.20,134.46 L416.70,135.18 L417.20,134.27 L417.70,133.80 L418.20,134.40 L418.70,134.58 L419.20,133.88 L419.70,133.43 L420.20,133.54 L420.70,134.70 L421.20,133.91 L421.70,134.25 L422.20,134.45 L422.70,134.67 L423.20,134.14 L423.70,134.60 L424.20,133.84 L424.70,134.13 L425.20,133.76 L425.70,134.95 L426.20,134.31 L426.70,133.92 L427.20,134.13 L427.70,134.20 L428.20,134.71 L428.70,133.45 L429.20,133.75 L429.70,134.12 L430.20,135.72 L430.70,134.85 L431.20,134.26 L431.70,134.72 L432.20,135.46 L432.70,134.20 L433.20,134.12 L433.70,134.99 L434.20,134.60 L434.70,134.69 L435.20,134.05 L435.70,135.38 L436.20,135.27 L436.70,134.64 L437.20,134.70 L437.70,133.21 L438.20,134.68 L438.70,134.22 L439.20,134.57 L439.70,134.70 L440.20,134.14 L440.70,133.40 L441.20,134.53 L441.70,133.92 L442.20,134.15 L442.70,134.00 L443.20,134.15 L443.70,133.07 L444.20,135.01 L444.70,134.48 L445.20,134.95 L445.70,135.43 L446.20,134.35 L446.70,133.35 L447.20,133.85 L447.70,133.68 L448.20,134.07 L448.70,134.40 L449.20,133.25 L449.70,134.54 L450.20,133.53 L450.70,134.53 L451.20,134.30 L451.70,134.20 L452.20,134.33 L452.70,134.08 L453.20,134.04 L453.70,133.46 L454.20,134.38 L454.70,135.41 L455.20,135.50 L455.70,135.14 L456.20,134.81 L456.70,134.06 L457.20,135.24 L457.70,134.43 L458.20,134.44 L458.70,134.34 L459.20,134.58 L459.70,134.32 L460.20,134.55 L460.70,134.04 L461.20,134.49 L461.70,136.03 L462.20,134.84 L462.70,134.91 L463.20,135.62 L463.70,136.31 L464.20,136.61 L464.70,139.58 L465.20,143.95 L465.70,147.66 L466.20,149.55 L466.70,148.42 L467.20,143.17 L467.70,139.89 L468.20,137.15 L468.70,137.04 L469.20,134.65 L469.70,135.24 L470.20,135.45 L470.70,136.63 L471.20,137.85 L471.70,140.67 L472.20,142.51 L472.70,147.21 L473.20,147.69 L473.70,145.15 L474.20,142.10 L474.70,138.15 L475.20,135.55 L475.70,135.50 L476.20,134.43 L476.70,134.69 L477.20,135.13 L477.70,135.03 L478.20,135.69 L478.70,134.69 L479.20,133.95 L479.70,134.39 L480.20,134.34 L480.70,134.25 L481.20,135.29 L481.70,134.95 L482.20,134.79 L482.70,137.52 L483.20,139.40 L483.70,142.99 L484.20,146.15 L484.70,147.46 L485.20,144.91 L485.70,142.03 L486.20,138.58 L486.70,136.69 L487.20,135.75 L487.70,134.29 L488.20,134.79 L488.70,134.61 L489.20,134.79 L489.70,133.87 L490.20,135.47 L490.70,134.59 L491.20,133.84 L491.70,133.54 L492.20,134.31 L492.70,134.39 L493.20,134.03 L493.70,134.47 L494.20,134.06 L494.70,134.70 L495.20,133.99 L495.70,134.36 L496.20,134.92" stroke="#c0600f" stroke-width="1.6" fill="none" stroke-linejoin="round"/>
<text x="500.8" y="137.5" font-family='"Liberation Serif", serif' font-size="10" font-weight="bold" stroke="#000" stroke-width="0.25">1.17 G</text>
<path d="M381.20,178.37 L381.70,176.41 L382.20,176.71 L382.70,176.51 L383.20,177.41 L383.70,176.36 L384.20,176.74 L384.70,177.00 L385.20,176.49 L385.70,176.53 L386.20,176.82 L386.70,175.96 L387.20,176.36 L387.70,176.99 L388.20,177.41 L388.70,177.44 L389.20,177.03 L389.70,178.70 L390.20,180.98 L390.70,182.87 L391.20,184.05 L391.70,183.42 L392.20,182.52 L392.70,179.89 L393.20,178.11 L393.70,177.50 L394.20,178.35 L394.70,177.52 L395.20,177.96 L395.70,177.03 L396.20,177.80 L396.70,176.97 L397.20,177.26 L397.70,178.82 L398.20,178.09 L398.70,177.89 L399.20,179.10 L399.70,180.91 L400.20,183.27 L400.70,183.52 L401.20,182.35 L401.70,181.53 L402.20,180.17 L402.70,179.51 L403.20,180.43 L403.70,180.91 L404.20,182.35 L404.70,181.63 L405.20,181.78 L405.70,181.01 L406.20,179.06 L406.70,178.01 L407.20,177.56 L407.70,178.28 L408.20,176.69 L408.70,177.08 L409.20,177.36 L409.70,177.48 L410.20,176.81 L410.70,177.20 L411.20,176.87 L411.70,177.07 L412.20,176.92 L412.70,176.36 L413.20,176.97 L413.70,177.46 L414.20,176.44 L414.70,176.83 L415.20,177.33 L415.70,176.37 L416.20,177.05 L416.70,176.37 L417.20,177.57 L417.70,178.22 L418.20,178.06 L418.70,176.82 L419.20,177.35 L419.70,177.01 L420.20,176.99 L420.70,177.79 L421.20,176.21 L421.70,177.52 L422.20,176.91 L422.70,177.71 L423.20,177.04 L423.70,176.56 L424.20,177.08 L424.70,177.34 L425.20,176.95 L425.70,177.20 L426.20,176.64 L426.70,175.76 L427.20,177.42 L427.70,177.31 L428.20,177.01 L428.70,176.97 L429.20,177.50 L429.70,176.68 L430.20,176.54 L430.70,176.83 L431.20,177.58 L431.70,176.17 L432.20,177.59 L432.70,176.58 L433.20,176.32 L433.70,177.62 L434.20,176.88 L434.70,176.22 L435.20,176.73 L435.70,177.44 L436.20,177.59 L436.70,176.70 L437.20,177.16 L437.70,177.33 L438.20,176.58 L438.70,177.13 L439.20,176.92 L439.70,176.64 L440.20,176.67 L440.70,176.98 L441.20,176.96 L441.70,176.63 L442.20,176.71 L442.70,177.56 L443.20,177.06 L443.70,177.43 L444.20,177.61 L444.70,177.27 L445.20,178.20 L445.70,176.50 L446.20,177.40 L446.70,176.78 L447.20,177.98 L447.70,177.90 L448.20,175.89 L448.70,176.44 L449.20,177.34 L449.70,177.41 L450.20,177.39 L450.70,176.95 L451.20,177.24 L451.70,177.36 L452.20,176.96 L452.70,177.58 L453.20,175.78 L453.70,177.38 L454.20,176.47 L454.70,177.58 L455.20,176.94 L455.70,176.59 L456.20,177.30 L456.70,176.61 L457.20,176.64 L457.70,176.30 L458.20,177.18 L458.70,177.51 L459.20,177.85 L459.70,177.27 L460.20,178.00 L460.70,177.54 L461.20,177.62 L461.70,178.21 L462.20,178.87 L462.70,178.94 L463.20,180.76 L463.70,184.03 L464.20,188.80 L464.70,192.85 L465.20,195.42 L465.70,191.76 L466.20,187.69 L466.70,183.48 L467.20,182.89 L467.70,184.11 L468.20,186.86 L468.70,192.04 L469.20,192.95 L469.70,191.66 L470.20,187.03 L470.70,182.31 L471.20,179.94 L471.70,179.07 L472.20,178.27 L472.70,177.99 L473.20,177.67 L473.70,176.78 L474.20,177.64 L474.70,176.59 L475.20,178.15 L475.70,177.89 L476.20,178.72 L476.70,180.71 L477.20,183.90 L477.70,186.66 L478.20,189.30 L478.70,189.29 L479.20,185.54 L479.70,182.46 L480.20,181.16 L480.70,178.16 L481.20,178.36 L481.70,176.90 L482.20,177.65 L482.70,177.20 L483.20,177.26 L483.70,177.55 L484.20,178.16 L484.70,177.26 L485.20,177.19 L485.70,176.56 L486.20,177.40 L486.70,176.93 L487.20,177.51 L487.70,177.01 L488.20,177.98 L488.70,175.92 L489.20,176.84 L489.70,177.48 L490.20,176.80 L490.70,176.55 L491.20,176.83 L491.70,176.22 L492.20,177.04 L492.70,178.31 L493.20,177.59 L493.70,176.35 L494.20,176.48 L494.70,176.73 L495.20,177.51 L495.70,176.50 L496.20,176.57 L496.70,177.43" stroke="#6650b0" stroke-width="1.6" fill="none" stroke-linejoin="round"/>
<text x="500.8" y="180.5" font-family='"Liberation Serif", serif' font-size="10" font-weight="bold" stroke="#000" stroke-width="0.25">0.76 G</text>
<path d="M373.50,220.49 L374.00,219.81 L374.50,219.40 L375.00,219.17 L375.50,219.64 L376.00,218.79 L376.50,220.43 L377.00,219.68 L377.50,220.29 L378.00,221.05 L378.50,220.67 L379.00,219.39 L379.50,220.51 L380.00,220.67 L380.50,219.62 L381.00,219.51 L381.50,219.97 L382.00,219.16 L382.50,220.85 L383.00,218.72 L383.50,219.44 L384.00,219.90 L384.50,219.93 L385.00,220.15 L385.50,220.21 L386.00,219.95 L386.50,220.70 L387.00,218.90 L387.50,220.09 L388.00,219.70 L388.50,220.18 L389.00,220.24 L389.50,219.63 L390.00,219.80 L390.50,220.62 L391.00,220.41 L391.50,219.88 L392.00,221.44 L392.50,221.69 L393.00,219.83 L393.50,221.25 L394.00,223.37 L394.50,223.95 L395.00,225.59 L395.50,226.83 L396.00,226.47 L396.50,225.00 L397.00,222.94 L397.50,222.28 L398.00,220.89 L398.50,220.53 L399.00,220.00 L399.50,220.65 L400.00,220.30 L400.50,221.03 L401.00,222.49 L401.50,223.66 L402.00,226.08 L402.50,228.55 L403.00,229.61 L403.50,228.27 L404.00,225.59 L404.50,223.81 L405.00,221.23 L405.50,221.75 L406.00,220.65 L406.50,220.04 L407.00,220.08 L407.50,219.92 L408.00,220.33 L408.50,219.81 L409.00,220.80 L409.50,219.72 L410.00,218.89 L410.50,219.72 L411.00,219.00 L411.50,220.08 L412.00,220.67 L412.50,220.44 L413.00,219.34 L413.50,219.65 L414.00,221.04 L414.50,220.24 L415.00,220.06 L415.50,220.63 L416.00,221.40 L416.50,220.76 L417.00,220.12 L417.50,220.24 L418.00,220.38 L418.50,219.70 L419.00,219.46 L419.50,220.07 L420.00,219.52 L420.50,220.00 L421.00,220.09 L421.50,221.32 L422.00,219.56 L422.50,219.97 L423.00,219.94 L423.50,220.27 L424.00,220.61 L424.50,219.76 L425.00,219.58 L425.50,219.13 L426.00,219.52 L426.50,220.32 L427.00,220.05 L427.50,219.47 L428.00,219.82 L428.50,220.05 L429.00,220.31 L429.50,219.70 L430.00,219.89 L430.50,219.03 L431.00,219.40 L431.50,220.92 L432.00,218.83 L432.50,219.84 L433.00,220.15 L433.50,219.82 L434.00,219.59 L434.50,220.00 L435.00,220.03 L435.50,219.99 L436.00,219.00 L436.50,219.95 L437.00,219.56 L437.50,219.73 L438.00,220.16 L438.50,220.39 L439.00,220.53 L439.50,219.76 L440.00,220.55 L440.50,220.68 L441.00,220.67 L441.50,220.81 L442.00,219.96 L442.50,219.95 L443.00,220.50 L443.50,219.30 L444.00,220.16 L444.50,219.76 L445.00,219.85 L445.50,219.10 L446.00,219.57 L446.50,220.05 L447.00,220.55 L447.50,220.61 L448.00,220.02 L448.50,219.97 L449.00,219.62 L449.50,220.30 L450.00,219.95 L450.50,220.42 L451.00,221.06 L451.50,220.08 L452.00,219.28 L452.50,219.64 L453.00,219.32 L453.50,219.47 L454.00,220.86 L454.50,220.28 L455.00,219.33 L455.50,220.54 L456.00,220.89 L456.50,220.02 L457.00,219.87 L457.50,220.08 L458.00,220.45 L458.50,220.69 L459.00,221.03 L459.50,221.10 L460.00,221.15 L460.50,221.34 L461.00,221.06 L461.50,220.00 L462.00,220.97 L462.50,221.52 L463.00,221.69 L463.50,223.57 L464.00,225.41 L464.50,229.94 L465.00,238.61 L465.50,246.17 L466.00,249.77 L466.50,246.35 L467.00,238.48 L467.50,230.76 L468.00,224.43 L468.50,222.93 L469.00,221.96 L469.50,221.23 L470.00,221.74 L470.50,222.39 L471.00,221.97 L471.50,222.89 L472.00,227.10 L472.50,229.33 L473.00,232.45 L473.50,234.35 L474.00,231.99 L474.50,227.47 L475.00,224.99 L475.50,222.22 L476.00,220.93 L476.50,221.05 L477.00,221.14 L477.50,220.22 L478.00,220.66 L478.50,220.35 L479.00,221.90 L479.50,219.91 L480.00,221.03 L480.50,220.21 L481.00,220.14 L481.50,220.59 L482.00,220.67 L482.50,220.86 L483.00,220.33 L483.50,219.80 L484.00,219.83 L484.50,220.40 L485.00,220.43 L485.50,220.87 L486.00,220.32 L486.50,220.67 L487.00,220.92 L487.50,220.17 L488.00,219.26 L488.50,219.42 L489.00,219.28 L489.50,220.94 L490.00,219.59" stroke="#e8501a" stroke-width="1.6" fill="none" stroke-linejoin="round"/>
<text x="500.8" y="224.2" font-family='"Liberation Serif", serif' font-size="10" font-weight="bold" stroke="#000" stroke-width="0.25">0.40 G</text>
<path d="M388.40,263.75 L388.90,263.40 L389.40,264.03 L389.90,263.65 L390.40,263.05 L390.90,263.01 L391.40,263.18 L391.90,263.25 L392.40,262.89 L392.90,263.19 L393.40,264.13 L393.90,262.35 L394.40,263.50 L394.90,262.97 L395.40,263.80 L395.90,264.65 L396.40,265.10 L396.90,267.06 L397.40,267.54 L397.90,270.16 L398.40,268.78 L398.90,267.95 L399.40,266.27 L399.90,264.06 L400.40,265.36 L400.90,267.14 L401.40,269.71 L401.90,270.57 L402.40,270.77 L402.90,269.08 L403.40,270.18 L403.90,270.67 L404.40,269.94 L404.90,268.94 L405.40,266.45 L405.90,266.16 L406.40,266.01 L406.90,264.29 L407.40,264.28 L407.90,263.73 L408.40,262.80 L408.90,264.02 L409.40,262.56 L409.90,263.09 L410.40,263.33 L410.90,263.64 L411.40,263.37 L411.90,263.34 L412.40,262.69 L412.90,262.39 L413.40,263.13 L413.90,262.70 L414.40,262.36 L414.90,262.38 L415.40,262.80 L415.90,262.05 L416.40,262.32 L416.90,262.16 L417.40,263.15 L417.90,263.28 L418.40,264.15 L418.90,262.22 L419.40,262.67 L419.90,263.54 L420.40,262.92 L420.90,262.86 L421.40,263.98 L421.90,262.85 L422.40,262.40 L422.90,262.31 L423.40,263.22 L423.90,263.20 L424.40,262.28 L424.90,262.49 L425.40,263.32 L425.90,263.35 L426.40,262.67 L426.90,263.37 L427.40,263.34 L427.90,262.05 L428.40,262.86 L428.90,263.26 L429.40,262.71 L429.90,261.85 L430.40,262.87 L430.90,263.44 L431.40,263.90 L431.90,261.82 L432.40,264.46 L432.90,262.41 L433.40,263.55 L433.90,263.71 L434.40,263.57 L434.90,263.11 L435.40,262.39 L435.90,263.37 L436.40,262.63 L436.90,261.64 L437.40,264.58 L437.90,263.42 L438.40,264.03 L438.90,262.53 L439.40,263.84 L439.90,263.91 L440.40,263.89 L440.90,263.02 L441.40,262.37 L441.90,262.94 L442.40,261.82 L442.90,262.10 L443.40,263.09 L443.90,262.49 L444.40,262.95 L444.90,262.98 L445.40,264.10 L445.90,263.76 L446.40,263.02 L446.90,263.71 L447.40,262.62 L447.90,262.87 L448.40,263.55 L448.90,262.37 L449.40,262.91 L449.90,262.34 L450.40,263.13 L450.90,263.97 L451.40,262.66 L451.90,263.20 L452.40,262.59 L452.90,262.46 L453.40,262.41 L453.90,263.90 L454.40,264.41 L454.90,263.38 L455.40,262.73 L455.90,263.53 L456.40,262.97 L456.90,263.61 L457.40,263.35 L457.90,263.36 L458.40,263.57 L458.90,262.95 L459.40,263.08 L459.90,262.40 L460.40,263.17 L460.90,262.71 L461.40,263.51 L461.90,263.22 L462.40,264.05 L462.90,264.73 L463.40,264.78 L463.90,267.29 L464.40,270.87 L464.90,276.44 L465.40,280.50 L465.90,279.61 L466.40,275.04 L466.90,271.59 L467.40,266.72 L467.90,266.65 L468.40,264.87 L468.90,263.97 L469.40,268.20 L469.90,270.15 L470.40,272.47 L470.90,276.85 L471.40,277.77 L471.90,275.36 L472.40,270.40 L472.90,267.37 L473.40,265.83 L473.90,264.59 L474.40,264.62 L474.90,263.76 L475.40,264.86 L475.90,263.07" stroke="#7aab1e" stroke-width="1.6" fill="none" stroke-linejoin="round"/>
<text x="500.8" y="265.9" font-family='"Liberation Serif", serif' font-size="10" font-weight="bold" stroke="#000" stroke-width="0.25">0.23 G</text>
<path d="M388.40,305.50 L388.90,304.31 L389.40,304.68 L389.90,306.11 L390.40,304.87 L390.90,305.69 L391.40,305.37 L391.90,304.84 L392.40,305.24 L392.90,305.17 L393.40,305.20 L393.90,305.91 L394.40,305.89 L394.90,305.26 L395.40,305.15 L395.90,305.90 L396.40,305.87 L396.90,306.88 L397.40,308.60 L397.90,309.10 L398.40,310.78 L398.90,312.84 L399.40,313.15 L399.90,311.74 L400.40,309.47 L400.90,307.95 L401.40,306.86 L401.90,307.16 L402.40,306.82 L402.90,307.93 L403.40,309.09 L403.90,312.74 L404.40,313.41 L404.90,313.47 L405.40,310.92 L405.90,309.27 L406.40,306.90 L406.90,306.66 L407.40,307.39 L407.90,305.05 L408.40,306.28 L408.90,306.51 L409.40,305.76 L409.90,305.92 L410.40,306.17 L410.90,305.08 L411.40,305.66 L411.90,304.93 L412.40,305.03 L412.90,305.05 L413.40,305.31 L413.90,305.46 L414.40,305.63 L414.90,304.57 L415.40,306.48 L415.90,306.01 L416.40,305.77 L416.90,305.15 L417.40,305.30 L417.90,305.66 L418.40,305.58 L418.90,304.40 L419.40,305.76 L419.90,306.99 L420.40,304.30 L420.90,305.90 L421.40,305.55 L421.90,305.28 L422.40,306.11 L422.90,304.67 L423.40,305.43 L423.90,306.16 L424.40,305.22 L424.90,305.10 L425.40,305.40 L425.90,305.08 L426.40,306.21 L426.90,304.82 L427.40,305.83 L427.90,304.62 L428.40,305.71 L428.90,305.27 L429.40,303.87 L429.90,305.33 L430.40,304.73 L430.90,305.08 L431.40,306.20 L431.90,304.70 L432.40,304.73 L432.90,306.15 L433.40,305.40 L433.90,306.21 L434.40,305.52 L434.90,304.84 L435.40,305.30 L435.90,306.03 L436.40,305.87 L436.90,305.34 L437.40,305.37 L437.90,305.28 L438.40,305.01 L438.90,306.44 L439.40,305.35 L439.90,304.71 L440.40,305.08 L440.90,305.76 L441.40,305.71 L441.90,305.27 L442.40,304.98 L442.90,305.37 L443.40,304.41 L443.90,304.62 L444.40,305.81 L444.90,305.09 L445.40,305.58 L445.90,306.06 L446.40,305.74 L446.90,305.39 L447.40,306.58 L447.90,305.76 L448.40,305.19 L448.90,305.81 L449.40,305.63 L449.90,304.92 L450.40,305.45 L450.90,305.32 L451.40,304.31 L451.90,305.33 L452.40,305.28 L452.90,305.20 L453.40,304.53 L453.90,305.27 L454.40,305.46 L454.90,305.56 L455.40,304.88 L455.90,305.90 L456.40,304.88 L456.90,305.47 L457.40,306.37 L457.90,305.28 L458.40,305.43 L458.90,306.38 L459.40,305.62 L459.90,305.76 L460.40,306.17 L460.90,306.78 L461.40,305.16 L461.90,306.28 L462.40,306.86 L462.90,308.24 L463.40,311.12 L463.90,315.52 L464.40,321.39 L464.90,324.32 L465.40,324.45 L465.90,322.02 L466.40,320.27 L466.90,322.47 L467.40,326.41 L467.90,327.06 L468.40,325.68 L468.90,325.30 L469.40,324.68 L469.90,323.48 L470.40,319.42 L470.90,313.65 L471.40,310.34 L471.90,308.90 L472.40,306.89 L472.90,306.73 L473.40,305.76 L473.90,305.68 L474.40,305.72 L474.90,307.10 L475.40,305.60 L475.90,305.46" stroke="#e0951a" stroke-width="1.6" fill="none" stroke-linejoin="round"/>
<text x="500.8" y="307.9" font-family='"Liberation Serif", serif' font-size="10" font-weight="bold" stroke="#000" stroke-width="0.25">0.11 G</text>
<path d="M388.40,347.76 L388.90,347.98 L389.40,348.44 L389.90,348.19 L390.40,349.22 L390.90,348.22 L391.40,348.90 L391.90,348.27 L392.40,348.47 L392.90,347.36 L393.40,348.10 L393.90,348.16 L394.40,348.09 L394.90,347.08 L395.40,348.79 L395.90,348.16 L396.40,348.22 L396.90,348.45 L397.40,348.69 L397.90,349.53 L398.40,349.65 L398.90,351.82 L399.40,355.50 L399.90,358.70 L400.40,360.01 L400.90,358.42 L401.40,355.18 L401.90,352.93 L402.40,352.30 L402.90,351.20 L403.40,353.72 L403.90,354.50 L404.40,353.82 L404.90,353.21 L405.40,350.32 L405.90,348.86 L406.40,348.32 L406.90,348.41 L407.40,348.27 L407.90,348.07 L408.40,348.34 L408.90,347.07 L409.40,348.48 L409.90,347.40 L410.40,347.80 L410.90,347.91 L411.40,347.49 L411.90,347.36 L412.40,347.55 L412.90,348.09 L413.40,348.41 L413.90,348.39 L414.40,347.53 L414.90,347.64 L415.40,347.56 L415.90,348.31 L416.40,346.94 L416.90,348.74 L417.40,347.79 L417.90,347.62 L418.40,348.24 L418.90,348.61 L419.40,348.23 L419.90,348.62 L420.40,348.12 L420.90,348.72 L421.40,348.72 L421.90,347.98 L422.40,348.83 L422.90,348.13 L423.40,348.08 L423.90,347.53 L424.40,347.88 L424.90,348.46 L425.40,347.31 L425.90,348.39 L426.40,348.22 L426.90,348.18 L427.40,346.82 L427.90,347.97 L428.40,348.39 L428.90,347.61 L429.40,348.08 L429.90,346.72 L430.40,348.40 L430.90,347.67 L431.40,348.51 L431.90,347.02 L432.40,348.41 L432.90,347.90 L433.40,348.48 L433.90,347.52 L434.40,347.69 L434.90,349.27 L435.40,347.58 L435.90,347.65 L436.40,347.88 L436.90,347.47 L437.40,348.69 L437.90,348.99 L438.40,347.65 L438.90,347.09 L439.40,348.69 L439.90,348.65 L440.40,348.49 L440.90,348.68 L441.40,347.57 L441.90,347.95 L442.40,347.29 L442.90,347.27 L443.40,348.59 L443.90,347.68 L444.40,349.31 L444.90,348.10 L445.40,347.71 L445.90,348.50 L446.40,349.06 L446.90,348.34 L447.40,347.40 L447.90,348.28 L448.40,348.84 L448.90,347.81 L449.40,347.66 L449.90,348.65 L450.40,348.18 L450.90,347.50 L451.40,347.90 L451.90,347.70 L452.40,348.29 L452.90,348.20 L453.40,348.78 L453.90,348.55 L454.40,347.31 L454.90,348.41 L455.40,348.70 L455.90,348.47 L456.40,348.81 L456.90,347.97 L457.40,347.78 L457.90,348.85 L458.40,347.80 L458.90,347.26 L459.40,349.08 L459.90,348.21 L460.40,348.55 L460.90,348.12 L461.40,348.41 L461.90,348.97 L462.40,350.40 L462.90,352.83 L463.40,354.90 L463.90,361.37 L464.40,364.56 L464.90,365.30 L465.40,362.98 L465.90,358.45 L466.40,355.33 L466.90,357.98 L467.40,360.74 L467.90,368.08 L468.40,374.15 L468.90,375.40 L469.40,368.68 L469.90,362.04 L470.40,355.22 L470.90,352.74 L471.40,349.98 L471.90,349.40 L472.40,350.24 L472.90,349.13 L473.40,348.85 L473.90,349.89 L474.40,348.76 L474.90,348.03 L475.40,348.82 L475.90,347.72 L476.40,348.95 L476.90,348.96 L477.40,347.95 L477.90,347.89 L478.40,348.31 L478.90,348.20 L479.40,347.64 L479.90,348.48 L480.40,347.03 L480.90,347.90 L481.40,347.91 L481.90,347.97 L482.40,348.28" stroke="#3a65b0" stroke-width="1.6" fill="none" stroke-linejoin="round"/>
<text x="500.8" y="351.6" font-family='"Liberation Serif", serif' font-size="10" font-weight="bold" stroke="#000" stroke-width="0.25">0 G</text>
<line x1="551.2" y1="25" x2="551.2" y2="377" stroke="#000" stroke-width="2.5"/>
<path d="M547.1,375.9 L555.1,375.9 L551.2,383.3 Z" fill="#000"/>
<text transform="translate(571.2,246.2) rotate(-90)" font-family='"Liberation Sans", sans-serif' font-size="13" font-weight="bold" stroke="#000" stroke-width="0.2">decreasing <tspan font-family='"Liberation Serif", serif' font-style="italic">B<tspan font-size="8.5" dy="2.6" dx="0.6">z</tspan></tspan></text>
<clipPath id="cc"><rect x="50" y="235" width="223.5" height="154.5"/></clipPath>
<rect x="52.6" y="235.1" width="220.9" height="154.4" fill="none" stroke="#555" stroke-width="1.7"/>
<g clip-path="url(#cc)"><path d="M52.24,254.93 L52.40,254.93 L52.56,254.93 L52.71,254.93 L52.87,254.93 L53.03,254.93 L53.19,254.93 L53.35,254.93 L53.51,254.93 L53.66,254.93 L53.82,254.93 L53.98,254.93 L54.14,254.93 L54.30,254.93 L54.46,254.93 L54.61,254.93 L54.77,254.93 L54.93,254.93 L55.09,254.93 L55.25,254.93 L55.41,254.93 L55.56,254.93 L55.72,254.93 L55.88,254.93 L56.04,254.93 L56.20,254.93 L56.36,254.93 L56.51,254.93 L56.67,254.93 L56.83,254.93 L56.99,254.93 L57.15,254.93 L57.31,254.93 L57.46,254.93 L57.62,254.93 L57.78,254.93 L57.94,254.93 L58.10,254.93 L58.26,254.93 L58.41,254.93 L58.57,254.93 L58.73,254.93 L58.89,254.93 L59.05,254.93 L59.21,254.93 L59.36,254.93 L59.52,254.93 L59.68,254.93 L59.84,254.93 L60.00,254.93 L60.16,254.93 L60.31,254.93 L60.47,254.93 L60.63,254.93 L60.79,254.93 L60.95,254.93 L61.11,254.93 L61.26,254.93 L61.42,254.93 L61.58,254.93 L61.74,254.93 L61.90,254.93 L62.06,254.93 L62.21,254.93 L62.37,254.93 L62.53,254.93 L62.69,254.93 L62.85,254.93 L63.01,254.93 L63.16,254.93 L63.32,254.93 L63.48,254.93 L63.64,254.93 L63.80,254.93 L63.96,254.93 L64.11,254.93 L64.27,254.93 L64.43,254.94 L64.59,254.94 L64.75,254.94 L64.91,254.95 L65.06,254.96 L65.22,254.98 L65.38,255.01 L65.54,255.04 L65.70,255.10 L65.86,255.18 L66.01,255.28 L66.17,255.43 L66.33,255.63 L66.49,255.89 L66.65,256.24 L66.81,256.69 L66.96,257.26 L67.12,257.98 L67.28,258.87 L67.44,259.96 L67.60,261.27 L67.76,262.82 L67.91,264.61 L68.07,266.67 L68.23,268.97 L68.39,271.51 L68.55,274.27 L68.71,277.18 L68.86,280.21 L69.02,283.29 L69.18,286.33 L69.34,289.25 L69.50,291.96 L69.65,294.37 L69.81,296.40 L69.97,297.97 L70.13,299.03 L70.29,299.54 L70.45,299.47 L70.60,298.83 L70.76,297.65 L70.92,295.96 L71.08,293.84 L71.24,291.35 L71.40,288.58 L71.55,285.63 L71.71,282.57 L71.87,279.50 L72.03,276.49 L72.19,273.61 L72.35,270.90 L72.50,268.41 L72.66,266.17 L72.82,264.17 L72.98,262.44 L73.14,260.95 L73.30,259.69 L73.45,258.65 L73.61,257.80 L73.77,257.11 L73.93,256.57 L74.09,256.15 L74.25,255.82 L74.40,255.57 L74.56,255.39 L74.72,255.25 L74.88,255.16 L75.04,255.08 L75.20,255.03 L75.35,255.00 L75.51,254.98 L75.67,254.96 L75.83,254.95 L75.99,254.94 L76.15,254.94 L76.30,254.93 L76.46,254.93 L76.62,254.93 L76.78,254.93 L76.94,254.93 L77.10,254.93 L77.25,254.93 L77.41,254.93 L77.57,254.93 L77.73,254.93 L77.89,254.93 L78.05,254.93 L78.20,254.93 L78.36,254.93 L78.52,254.93 L78.68,254.93 L78.84,254.93 L79.00,254.93 L79.15,254.93 L79.31,254.93 L79.47,254.93 L79.63,254.93 L79.79,254.93 L79.95,254.93 L80.10,254.93 L80.26,254.93 L80.42,254.93 L80.58,254.93 L80.74,254.93 L80.90,254.93 L81.05,254.93 L81.21,254.93 L81.37,254.93 L81.53,254.93 L81.69,254.93 L81.85,254.93 L82.00,254.93 L82.16,254.93 L82.32,254.93 L82.48,254.93 L82.64,254.93 L82.80,254.94 L82.95,254.94 L83.11,254.95 L83.27,254.96 L83.43,254.97 L83.59,255.00 L83.75,255.03 L83.90,255.08 L84.06,255.14 L84.22,255.24 L84.38,255.37 L84.54,255.54 L84.70,255.78 L84.85,256.08 L85.01,256.49 L85.17,257.00 L85.33,257.65 L85.49,258.46 L85.65,259.46 L85.80,260.65 L85.96,262.07 L86.12,263.72 L86.28,265.62 L86.44,267.77 L86.60,270.15 L86.75,272.73 L86.91,275.49 L87.07,278.37 L87.23,281.31 L87.39,284.23 L87.54,287.07 L87.70,289.72 L87.86,292.11 L88.02,294.16 L88.18,295.79 L88.34,296.94 L88.49,297.56 L88.65,297.65 L88.81,297.18 L88.97,296.18 L89.13,294.69 L89.29,292.76 L89.44,290.47 L89.60,287.88 L89.76,285.10 L89.92,282.20 L90.08,279.28 L90.24,276.40 L90.39,273.63 L90.55,271.04 L90.71,268.67 L90.87,266.55 L91.03,264.70 L91.19,263.15 L91.34,261.90 L91.50,260.94 L91.66,260.28 L91.82,259.91 L91.98,259.83 L92.14,260.04 L92.29,260.53 L92.45,261.29 L92.61,262.33 L92.77,263.63 L92.93,265.18 L93.09,266.97 L93.24,268.96 L93.40,271.13 L93.56,273.43 L93.72,275.81 L93.88,278.21 L94.04,280.56 L94.19,282.80 L94.35,284.85 L94.51,286.63 L94.67,288.10 L94.83,289.18 L94.99,289.85 L95.14,290.08 L95.30,289.85 L95.46,289.18 L95.62,288.10 L95.78,286.63 L95.94,284.84 L96.09,282.79 L96.25,280.55 L96.41,278.18 L96.57,275.77 L96.73,273.36 L96.89,271.02 L97.04,268.80 L97.20,266.73 L97.36,264.84 L97.52,263.15 L97.68,261.66 L97.84,260.37 L97.99,259.27 L98.15,258.35 L98.31,257.59 L98.47,256.97 L98.63,256.47 L98.79,256.08 L98.94,255.78 L99.10,255.55 L99.26,255.38 L99.42,255.25 L99.58,255.15 L99.74,255.08 L99.89,255.04 L100.05,255.00 L100.21,254.98 L100.37,254.96 L100.53,254.95 L100.69,254.94 L100.84,254.94 L101.00,254.94 L101.16,254.93 L101.32,254.93 L101.48,254.93 L101.64,254.93 L101.79,254.93 L101.95,254.93 L102.11,254.93 L102.27,254.93 L102.43,254.93 L102.59,254.93 L102.74,254.93 L102.90,254.93 L103.06,254.93 L103.22,254.93 L103.38,254.93 L103.54,254.93 L103.69,254.93 L103.85,254.93 L104.01,254.93 L104.17,254.93 L104.33,254.93 L104.48,254.93 L104.64,254.93 L104.80,254.93 L104.96,254.93 L105.12,254.93 L105.28,254.93 L105.43,254.93 L105.59,254.93 L105.75,254.93 L105.91,254.93 L106.07,254.93 L106.23,254.93 L106.38,254.93 L106.54,254.93 L106.70,254.93 L106.86,254.93 L107.02,254.93 L107.18,254.93 L107.33,254.93 L107.49,254.93 L107.65,254.93 L107.81,254.93 L107.97,254.93 L108.13,254.93 L108.28,254.93 L108.44,254.93 L108.60,254.93 L108.76,254.93 L108.92,254.93 L109.08,254.93 L109.23,254.93 L109.39,254.93 L109.55,254.93 L109.71,254.93 L109.87,254.93 L110.03,254.93 L110.18,254.93 L110.34,254.93 L110.50,254.93 L110.66,254.93 L110.82,254.93 L110.98,254.93 L111.13,254.93 L111.29,254.93 L111.45,254.93 L111.61,254.93 L111.77,254.93 L111.93,254.93 L112.08,254.93 L112.24,254.93 L112.40,254.93 L112.56,254.93 L112.72,254.93 L112.88,254.93 L113.03,254.93 L113.19,254.93 L113.35,254.93 L113.51,254.93 L113.67,254.93 L113.83,254.93 L113.98,254.93 L114.14,254.93 L114.30,254.93 L114.46,254.93 L114.62,254.93 L114.78,254.93 L114.93,254.93 L115.09,254.93 L115.25,254.93 L115.41,254.93 L115.57,254.93 L115.73,254.93 L115.88,254.93 L116.04,254.93 L116.20,254.93 L116.36,254.93 L116.52,254.93 L116.68,254.93 L116.83,254.93 L116.99,254.93 L117.15,254.93 L117.31,254.93 L117.47,254.93 L117.63,254.93 L117.78,254.93 L117.94,254.93 L118.10,254.93 L118.26,254.93 L118.42,254.93 L118.58,254.93 L118.73,254.93 L118.89,254.93 L119.05,254.93 L119.21,254.93 L119.37,254.93 L119.53,254.93 L119.68,254.93 L119.84,254.93 L120.00,254.93 L120.16,254.93 L120.32,254.93 L120.48,254.93 L120.63,254.93 L120.79,254.93 L120.95,254.93 L121.11,254.93 L121.27,254.93 L121.43,254.93 L121.58,254.93 L121.74,254.93 L121.90,254.93 L122.06,254.93 L122.22,254.93 L122.37,254.93 L122.53,254.93 L122.69,254.93 L122.85,254.93 L123.01,254.93 L123.17,254.93 L123.32,254.93 L123.48,254.93 L123.64,254.93 L123.80,254.93 L123.96,254.93 L124.12,254.93 L124.27,254.93 L124.43,254.93 L124.59,254.93 L124.75,254.93 L124.91,254.93 L125.07,254.93 L125.22,254.93 L125.38,254.93 L125.54,254.93 L125.70,254.93 L125.86,254.93 L126.02,254.93 L126.17,254.93 L126.33,254.93 L126.49,254.93 L126.65,254.93 L126.81,254.93 L126.97,254.93 L127.12,254.93 L127.28,254.93 L127.44,254.93 L127.60,254.93 L127.76,254.93 L127.92,254.93 L128.07,254.93 L128.23,254.93 L128.39,254.93 L128.55,254.93 L128.71,254.93 L128.87,254.93 L129.02,254.93 L129.18,254.93 L129.34,254.93 L129.50,254.93 L129.66,254.93 L129.82,254.93 L129.97,254.93 L130.13,254.93 L130.29,254.93 L130.45,254.93 L130.61,254.93 L130.77,254.93 L130.92,254.93 L131.08,254.93 L131.24,254.93 L131.40,254.93 L131.56,254.93 L131.72,254.93 L131.87,254.93 L132.03,254.93 L132.19,254.93 L132.35,254.93 L132.51,254.93 L132.67,254.93 L132.82,254.93 L132.98,254.93 L133.14,254.93 L133.30,254.93 L133.46,254.93 L133.62,254.93 L133.77,254.93 L133.93,254.93 L134.09,254.93 L134.25,254.93 L134.41,254.93 L134.57,254.93 L134.72,254.93 L134.88,254.93 L135.04,254.93 L135.20,254.93 L135.36,254.93 L135.52,254.93 L135.67,254.93 L135.83,254.93 L135.99,254.93 L136.15,254.93 L136.31,254.93 L136.47,254.93 L136.62,254.93 L136.78,254.93 L136.94,254.93 L137.10,254.93 L137.26,254.93 L137.42,254.93 L137.57,254.93 L137.73,254.93 L137.89,254.93 L138.05,254.93 L138.21,254.93 L138.37,254.93 L138.52,254.93 L138.68,254.93 L138.84,254.93 L139.00,254.93 L139.16,254.93 L139.31,254.93 L139.47,254.93 L139.63,254.93 L139.79,254.93 L139.95,254.93 L140.11,254.93 L140.26,254.93 L140.42,254.93 L140.58,254.93 L140.74,254.93 L140.90,254.93 L141.06,254.93 L141.21,254.93 L141.37,254.93 L141.53,254.93 L141.69,254.93 L141.85,254.93 L142.01,254.93 L142.16,254.93 L142.32,254.93 L142.48,254.93 L142.64,254.93 L142.80,254.93 L142.96,254.93 L143.11,254.93 L143.27,254.93 L143.43,254.93 L143.59,254.93 L143.75,254.93 L143.91,254.93 L144.06,254.93 L144.22,254.93 L144.38,254.93 L144.54,254.93 L144.70,254.93 L144.86,254.93 L145.01,254.93 L145.17,254.93 L145.33,254.93 L145.49,254.93 L145.65,254.93 L145.81,254.93 L145.96,254.93 L146.12,254.93 L146.28,254.93 L146.44,254.93 L146.60,254.93 L146.76,254.93 L146.91,254.93 L147.07,254.93 L147.23,254.93 L147.39,254.93 L147.55,254.93 L147.71,254.93 L147.86,254.93 L148.02,254.93 L148.18,254.93 L148.34,254.93 L148.50,254.93 L148.66,254.93 L148.81,254.93 L148.97,254.93 L149.13,254.93 L149.29,254.93 L149.45,254.93 L149.61,254.93 L149.76,254.93 L149.92,254.93 L150.08,254.93 L150.24,254.93 L150.40,254.93 L150.56,254.93 L150.71,254.93 L150.87,254.93 L151.03,254.93 L151.19,254.93 L151.35,254.93 L151.51,254.93 L151.66,254.93 L151.82,254.93 L151.98,254.93 L152.14,254.93 L152.30,254.93 L152.46,254.93 L152.61,254.93 L152.77,254.93 L152.93,254.93 L153.09,254.93 L153.25,254.93 L153.41,254.93 L153.56,254.93 L153.72,254.93 L153.88,254.93 L154.04,254.93 L154.20,254.93 L154.36,254.93 L154.51,254.93 L154.67,254.93 L154.83,254.93 L154.99,254.93 L155.15,254.93 L155.31,254.93 L155.46,254.93 L155.62,254.93 L155.78,254.93 L155.94,254.93 L156.10,254.93 L156.25,254.93 L156.41,254.93 L156.57,254.93 L156.73,254.93 L156.89,254.93 L157.05,254.93 L157.20,254.93 L157.36,254.93 L157.52,254.93 L157.68,254.93 L157.84,254.93 L158.00,254.93 L158.15,254.93 L158.31,254.93 L158.47,254.93 L158.63,254.93 L158.79,254.93 L158.95,254.93 L159.10,254.93 L159.26,254.93 L159.42,254.93 L159.58,254.93 L159.74,254.93 L159.90,254.93 L160.05,254.93 L160.21,254.93 L160.37,254.93 L160.53,254.93 L160.69,254.93 L160.85,254.93 L161.00,254.93 L161.16,254.93 L161.32,254.93 L161.48,254.93 L161.64,254.93 L161.80,254.93 L161.95,254.93 L162.11,254.93 L162.27,254.93 L162.43,254.93 L162.59,254.93 L162.75,254.93 L162.90,254.93 L163.06,254.93 L163.22,254.93 L163.38,254.93 L163.54,254.93 L163.70,254.93 L163.85,254.93 L164.01,254.93 L164.17,254.93 L164.33,254.93 L164.49,254.93 L164.65,254.93 L164.80,254.93 L164.96,254.93 L165.12,254.93 L165.28,254.93 L165.44,254.93 L165.60,254.93 L165.75,254.93 L165.91,254.93 L166.07,254.93 L166.23,254.93 L166.39,254.93 L166.55,254.93 L166.70,254.93 L166.86,254.93 L167.02,254.93 L167.18,254.93 L167.34,254.93 L167.50,254.93 L167.65,254.93 L167.81,254.93 L167.97,254.93 L168.13,254.93 L168.29,254.93 L168.45,254.93 L168.60,254.93 L168.76,254.93 L168.92,254.93 L169.08,254.93 L169.24,254.93 L169.40,254.93 L169.55,254.93 L169.71,254.93 L169.87,254.93 L170.03,254.93 L170.19,254.93 L170.35,254.93 L170.50,254.93 L170.66,254.93 L170.82,254.93 L170.98,254.93 L171.14,254.93 L171.30,254.93 L171.45,254.93 L171.61,254.93 L171.77,254.93 L171.93,254.93 L172.09,254.93 L172.25,254.93 L172.40,254.93 L172.56,254.93 L172.72,254.93 L172.88,254.93 L173.04,254.93 L173.20,254.93 L173.35,254.93 L173.51,254.93 L173.67,254.93 L173.83,254.93 L173.99,254.93 L174.14,254.93 L174.30,254.93 L174.46,254.93 L174.62,254.93 L174.78,254.93 L174.94,254.93 L175.09,254.93 L175.25,254.93 L175.41,254.93 L175.57,254.93 L175.73,254.93 L175.89,254.93 L176.04,254.93 L176.20,254.93 L176.36,254.93 L176.52,254.93 L176.68,254.93 L176.84,254.93 L176.99,254.93 L177.15,254.93 L177.31,254.93 L177.47,254.93 L177.63,254.93 L177.79,254.93 L177.94,254.93 L178.10,254.93 L178.26,254.93 L178.42,254.93 L178.58,254.93 L178.74,254.93 L178.89,254.93 L179.05,254.93 L179.21,254.93 L179.37,254.93 L179.53,254.93 L179.69,254.93 L179.84,254.93 L180.00,254.93 L180.16,254.93 L180.32,254.93 L180.48,254.93 L180.64,254.93 L180.79,254.93 L180.95,254.93 L181.11,254.93 L181.27,254.93 L181.43,254.93 L181.59,254.93 L181.74,254.93 L181.90,254.93 L182.06,254.93 L182.22,254.93 L182.38,254.93 L182.54,254.93 L182.69,254.93 L182.85,254.93 L183.01,254.93 L183.17,254.93 L183.33,254.93 L183.49,254.93 L183.64,254.93 L183.80,254.93 L183.96,254.93 L184.12,254.93 L184.28,254.93 L184.44,254.93 L184.59,254.93 L184.75,254.93 L184.91,254.93 L185.07,254.93 L185.23,254.93 L185.39,254.93 L185.54,254.93 L185.70,254.93 L185.86,254.93 L186.02,254.93 L186.18,254.93 L186.34,254.93 L186.49,254.93 L186.65,254.93 L186.81,254.93 L186.97,254.93 L187.13,254.93 L187.29,254.93 L187.44,254.93 L187.60,254.93 L187.76,254.93 L187.92,254.93 L188.08,254.93 L188.24,254.93 L188.39,254.93 L188.55,254.93 L188.71,254.93 L188.87,254.93 L189.03,254.93 L189.19,254.93 L189.34,254.93 L189.50,254.93 L189.66,254.93 L189.82,254.93 L189.98,254.93 L190.14,254.93 L190.29,254.93 L190.45,254.93 L190.61,254.93 L190.77,254.93 L190.93,254.93 L191.08,254.93 L191.24,254.93 L191.40,254.93 L191.56,254.93 L191.72,254.93 L191.88,254.93 L192.03,254.93 L192.19,254.93 L192.35,254.93 L192.51,254.93 L192.67,254.93 L192.83,254.93 L192.98,254.93 L193.14,254.93 L193.30,254.93 L193.46,254.93 L193.62,254.93 L193.78,254.93 L193.93,254.93 L194.09,254.93 L194.25,254.93 L194.41,254.93 L194.57,254.93 L194.73,254.93 L194.88,254.93 L195.04,254.93 L195.20,254.93 L195.36,254.93 L195.52,254.93 L195.68,254.93 L195.83,254.93 L195.99,254.93 L196.15,254.93 L196.31,254.93 L196.47,254.93 L196.63,254.93 L196.78,254.93 L196.94,254.93 L197.10,254.93 L197.26,254.93 L197.42,254.93 L197.58,254.93 L197.73,254.93 L197.89,254.93 L198.05,254.93 L198.21,254.93 L198.37,254.93 L198.53,254.93 L198.68,254.93 L198.84,254.93 L199.00,254.93 L199.16,254.93 L199.32,254.93 L199.48,254.93 L199.63,254.93 L199.79,254.93 L199.95,254.93 L200.11,254.93 L200.27,254.93 L200.43,254.93 L200.58,254.93 L200.74,254.93 L200.90,254.93 L201.06,254.93 L201.22,254.93 L201.38,254.93 L201.53,254.93 L201.69,254.93 L201.85,254.93 L202.01,254.93 L202.17,254.93 L202.33,254.93 L202.48,254.93 L202.64,254.93 L202.80,254.93 L202.96,254.93 L203.12,254.93 L203.28,254.93 L203.43,254.93 L203.59,254.93 L203.75,254.93 L203.91,254.93 L204.07,254.93 L204.23,254.93 L204.38,254.93 L204.54,254.93 L204.70,254.93 L204.86,254.93 L205.02,254.93 L205.18,254.93 L205.33,254.93 L205.49,254.93 L205.65,254.93 L205.81,254.93 L205.97,254.93 L206.13,254.93 L206.28,254.94 L206.44,254.94 L206.60,254.95 L206.76,254.96 L206.92,254.98 L207.08,255.00 L207.23,255.04 L207.39,255.10 L207.55,255.19 L207.71,255.31 L207.87,255.49 L208.02,255.74 L208.18,256.08 L208.34,256.55 L208.50,257.18 L208.66,258.01 L208.82,259.10 L208.97,260.49 L209.13,262.26 L209.29,264.46 L209.45,267.17 L209.61,270.44 L209.77,274.34 L209.92,278.91 L210.08,284.17 L210.24,290.12 L210.40,296.75 L210.56,303.99 L210.72,311.74 L210.87,319.87 L211.03,328.21 L211.19,336.56 L211.35,344.70 L211.51,352.38 L211.67,359.36 L211.82,365.40 L211.98,370.29 L212.14,373.86 L212.30,375.96 L212.46,376.51 L212.62,375.51 L212.77,372.97 L212.93,369.01 L213.09,363.77 L213.25,357.44 L213.41,350.24 L213.57,342.41 L213.72,334.21 L213.88,325.87 L214.04,317.62 L214.20,309.65 L214.36,302.13 L214.52,295.19 L214.67,288.95 L214.83,283.45 L214.99,278.76 L215.15,274.87 L215.31,271.81 L215.47,269.55 L215.62,268.08 L215.78,267.40 L215.94,267.48 L216.10,268.32 L216.26,269.91 L216.42,272.25 L216.57,275.32 L216.73,279.11 L216.89,283.60 L217.05,288.74 L217.21,294.46 L217.37,300.67 L217.52,307.26 L217.68,314.09 L217.84,320.99 L218.00,327.76 L218.16,334.21 L218.32,340.13 L218.47,345.33 L218.63,349.62 L218.79,352.83 L218.95,354.86 L219.11,355.63 L219.27,355.09 L219.42,353.28 L219.58,350.27 L219.74,346.16 L219.90,341.11 L220.06,335.29 L220.22,328.90 L220.37,322.15 L220.53,315.23 L220.69,308.33 L220.85,301.61 L221.01,295.21 L221.17,289.25 L221.32,283.79 L221.48,278.89 L221.64,274.56 L221.80,270.81 L221.96,267.61 L222.12,264.93 L222.27,262.71 L222.43,260.91 L222.59,259.46 L222.75,258.32 L222.91,257.44 L223.07,256.76 L223.22,256.25 L223.38,255.87 L223.54,255.59 L223.70,255.39 L223.86,255.24 L224.02,255.14 L224.17,255.07 L224.33,255.02 L224.49,254.99 L224.65,254.97 L224.81,254.95 L224.97,254.95 L225.12,254.94 L225.28,254.94 L225.44,254.93 L225.60,254.93 L225.76,254.93 L225.91,254.93 L226.07,254.93 L226.23,254.93 L226.39,254.93 L226.55,254.93 L226.71,254.93 L226.86,254.93 L227.02,254.93 L227.18,254.93 L227.34,254.93 L227.50,254.93 L227.66,254.93 L227.81,254.93 L227.97,254.93 L228.13,254.93 L228.29,254.93 L228.45,254.93 L228.61,254.93 L228.76,254.93 L228.92,254.93 L229.08,254.93 L229.24,254.93 L229.40,254.93 L229.56,254.93 L229.71,254.93 L229.87,254.93 L230.03,254.93 L230.19,254.93 L230.35,254.93 L230.51,254.93 L230.66,254.93 L230.82,254.93 L230.98,254.93 L231.14,254.93 L231.30,254.94 L231.46,254.94 L231.61,254.95 L231.77,254.96 L231.93,254.97 L232.09,255.00 L232.25,255.03 L232.41,255.08 L232.56,255.16 L232.72,255.26 L232.88,255.42 L233.04,255.63 L233.20,255.92 L233.36,256.31 L233.51,256.83 L233.67,257.51 L233.83,258.40 L233.99,259.53 L234.15,260.95 L234.31,262.71 L234.46,264.86 L234.62,267.43 L234.78,270.47 L234.94,274.00 L235.10,278.03 L235.26,282.56 L235.41,287.55 L235.57,292.95 L235.73,298.67 L235.89,304.61 L236.05,310.62 L236.21,316.57 L236.36,322.28 L236.52,327.56 L236.68,332.26 L236.84,336.21 L237.00,339.26 L237.16,341.30 L237.31,342.26 L237.47,342.09 L237.63,340.81 L237.79,338.46 L237.95,335.14 L238.11,330.95 L238.26,326.06 L238.42,320.63 L238.58,314.84 L238.74,308.85 L238.90,302.84 L239.06,296.96 L239.21,291.32 L239.37,286.04 L239.53,281.18 L239.69,276.80 L239.85,272.91 L240.01,269.52 L240.16,266.63 L240.32,264.18 L240.48,262.15 L240.64,260.50 L240.80,259.17 L240.96,258.11 L241.11,257.29 L241.27,256.66 L241.43,256.18 L241.59,255.82 L241.75,255.56 L241.91,255.37 L242.06,255.23 L242.22,255.13 L242.38,255.07 L242.54,255.02 L242.70,254.99 L242.85,254.97 L243.01,254.95 L243.17,254.94 L243.33,254.94 L243.49,254.94 L243.65,254.93 L243.80,254.93 L243.96,254.93 L244.12,254.93 L244.28,254.93 L244.44,254.93 L244.60,254.93 L244.75,254.93 L244.91,254.93 L245.07,254.93 L245.23,254.93 L245.39,254.93 L245.55,254.93 L245.70,254.93 L245.86,254.93 L246.02,254.93 L246.18,254.93 L246.34,254.93 L246.50,254.93 L246.65,254.93 L246.81,254.93 L246.97,254.93 L247.13,254.93 L247.29,254.93 L247.45,254.93 L247.60,254.93 L247.76,254.93 L247.92,254.93 L248.08,254.93 L248.24,254.93 L248.40,254.93 L248.55,254.93 L248.71,254.93 L248.87,254.93 L249.03,254.93 L249.19,254.93 L249.35,254.93 L249.50,254.93 L249.66,254.93 L249.82,254.93 L249.98,254.93 L250.14,254.93 L250.30,254.93 L250.45,254.93 L250.61,254.93 L250.77,254.93 L250.93,254.93 L251.09,254.93 L251.25,254.93 L251.40,254.93 L251.56,254.93 L251.72,254.93 L251.88,254.93 L252.04,254.93 L252.20,254.93 L252.35,254.93 L252.51,254.93 L252.67,254.93 L252.83,254.93 L252.99,254.93 L253.15,254.93 L253.30,254.93 L253.46,254.93 L253.62,254.93 L253.78,254.93 L253.94,254.93 L254.10,254.93 L254.25,254.93 L254.41,254.93 L254.57,254.93 L254.73,254.93 L254.89,254.93 L255.05,254.93 L255.20,254.93 L255.36,254.93 L255.52,254.93 L255.68,254.93 L255.84,254.93 L256.00,254.93 L256.15,254.93 L256.31,254.93 L256.47,254.93 L256.63,254.93 L256.79,254.93 L256.95,254.93 L257.10,254.93 L257.26,254.93 L257.42,254.93 L257.58,254.93 L257.74,254.93 L257.90,254.93 L258.05,254.93 L258.21,254.93 L258.37,254.93 L258.53,254.93 L258.69,254.93 L258.85,254.93 L259.00,254.93 L259.16,254.93 L259.32,254.93 L259.48,254.93 L259.64,254.93 L259.80,254.93 L259.95,254.93 L260.11,254.93 L260.27,254.93 L260.43,254.93 L260.59,254.93 L260.74,254.93 L260.90,254.93 L261.06,254.93 L261.22,254.93 L261.38,254.93 L261.54,254.93 L261.69,254.93 L261.85,254.93 L262.01,254.93 L262.17,254.93 L262.33,254.93 L262.49,254.93 L262.64,254.93 L262.80,254.93 L262.96,254.93 L263.12,254.93 L263.28,254.93 L263.44,254.93 L263.59,254.93 L263.75,254.93 L263.91,254.93 L264.07,254.93 L264.23,254.93 L264.39,254.93 L264.54,254.93 L264.70,254.93 L264.86,254.93 L265.02,254.93 L265.18,254.93 L265.34,254.93 L265.49,254.93 L265.65,254.93 L265.81,254.93 L265.97,254.93 L266.13,254.93 L266.29,254.93 L266.44,254.93 L266.60,254.93 L266.76,254.93 L266.92,254.93 L267.08,254.93 L267.24,254.93 L267.39,254.93 L267.55,254.93 L267.71,254.93 L267.87,254.93 L268.03,254.93 L268.19,254.93 L268.34,254.93 L268.50,254.93 L268.66,254.93 L268.82,254.93 L268.98,254.93 L269.14,254.93 L269.29,254.93 L269.45,254.93 L269.61,254.93 L269.77,254.93 L269.93,254.93 L270.09,254.93 L270.24,254.93 L270.40,254.93 L270.56,254.93 L270.72,254.93 L270.88,254.93 L271.04,254.93 L271.19,254.93 L271.35,254.93 L271.51,254.93 L271.67,254.93 L271.83,254.93 L271.99,254.93 L272.14,254.93 L272.30,254.93 L272.46,254.93 L272.62,254.93 L272.78,254.93 L272.94,254.93 L273.09,254.93 L273.25,254.93 L273.41,254.93 L273.57,254.93 L273.73,254.93" stroke="#ff1010" stroke-width="2" fill="none"/></g>
<g fill="#000" clip-path="url(#cc)"><circle cx="49.73" cy="257.40" r="1.65"/><circle cx="50.32" cy="251.36" r="1.65"/><circle cx="50.90" cy="253.91" r="1.65"/><circle cx="51.49" cy="255.48" r="1.65"/><circle cx="52.07" cy="257.86" r="1.65"/><circle cx="52.66" cy="257.25" r="1.65"/><circle cx="53.24" cy="252.12" r="1.65"/><circle cx="53.83" cy="256.52" r="1.65"/><circle cx="54.41" cy="253.10" r="1.65"/><circle cx="55.00" cy="249.78" r="1.65"/><circle cx="55.58" cy="249.88" r="1.65"/><circle cx="56.17" cy="248.13" r="1.65"/><circle cx="56.75" cy="254.30" r="1.65"/><circle cx="57.34" cy="256.92" r="1.65"/><circle cx="57.92" cy="249.92" r="1.65"/><circle cx="58.51" cy="252.29" r="1.65"/><circle cx="59.09" cy="249.58" r="1.65"/><circle cx="59.68" cy="253.28" r="1.65"/><circle cx="60.26" cy="249.34" r="1.65"/><circle cx="60.85" cy="250.50" r="1.65"/><circle cx="61.43" cy="250.93" r="1.65"/><circle cx="62.02" cy="251.64" r="1.65"/><circle cx="62.60" cy="251.99" r="1.65"/><circle cx="63.19" cy="252.54" r="1.65"/><circle cx="63.77" cy="252.56" r="1.65"/><circle cx="64.36" cy="250.03" r="1.65"/><circle cx="64.94" cy="255.04" r="1.65"/><circle cx="65.53" cy="247.66" r="1.65"/><circle cx="66.11" cy="254.11" r="1.65"/><circle cx="66.70" cy="251.48" r="1.65"/><circle cx="67.28" cy="257.59" r="1.65"/><circle cx="67.87" cy="263.29" r="1.65"/><circle cx="68.45" cy="264.27" r="1.65"/><circle cx="69.04" cy="283.05" r="1.65"/><circle cx="69.62" cy="296.57" r="1.65"/><circle cx="70.21" cy="300.12" r="1.65"/><circle cx="70.79" cy="296.79" r="1.65"/><circle cx="71.38" cy="280.10" r="1.65"/><circle cx="71.96" cy="275.41" r="1.65"/><circle cx="72.55" cy="263.02" r="1.65"/><circle cx="73.13" cy="262.69" r="1.65"/><circle cx="73.72" cy="254.53" r="1.65"/><circle cx="74.31" cy="251.87" r="1.65"/><circle cx="74.89" cy="247.54" r="1.65"/><circle cx="75.48" cy="255.68" r="1.65"/><circle cx="76.06" cy="251.32" r="1.65"/><circle cx="76.65" cy="252.31" r="1.65"/><circle cx="77.23" cy="256.71" r="1.65"/><circle cx="77.82" cy="253.38" r="1.65"/><circle cx="78.40" cy="254.19" r="1.65"/><circle cx="78.99" cy="261.05" r="1.65"/><circle cx="79.57" cy="251.32" r="1.65"/><circle cx="80.16" cy="251.52" r="1.65"/><circle cx="80.74" cy="254.77" r="1.65"/><circle cx="81.33" cy="257.77" r="1.65"/><circle cx="81.91" cy="248.39" r="1.65"/><circle cx="82.50" cy="252.43" r="1.65"/><circle cx="83.08" cy="249.95" r="1.65"/><circle cx="83.67" cy="248.71" r="1.65"/><circle cx="84.25" cy="255.38" r="1.65"/><circle cx="84.84" cy="251.73" r="1.65"/><circle cx="85.42" cy="257.29" r="1.65"/><circle cx="86.01" cy="261.10" r="1.65"/><circle cx="86.59" cy="268.76" r="1.65"/><circle cx="87.18" cy="278.73" r="1.65"/><circle cx="87.76" cy="285.32" r="1.65"/><circle cx="88.35" cy="294.97" r="1.65"/><circle cx="88.93" cy="295.36" r="1.65"/><circle cx="89.52" cy="288.63" r="1.65"/><circle cx="90.10" cy="276.09" r="1.65"/><circle cx="90.69" cy="270.38" r="1.65"/><circle cx="91.27" cy="262.49" r="1.65"/><circle cx="91.86" cy="258.43" r="1.65"/><circle cx="92.44" cy="261.50" r="1.65"/><circle cx="93.03" cy="265.05" r="1.65"/><circle cx="93.61" cy="274.61" r="1.65"/><circle cx="94.20" cy="274.56" r="1.65"/><circle cx="94.78" cy="282.88" r="1.65"/><circle cx="95.37" cy="286.52" r="1.65"/><circle cx="95.95" cy="283.20" r="1.65"/><circle cx="96.54" cy="267.35" r="1.65"/><circle cx="97.12" cy="265.07" r="1.65"/><circle cx="97.71" cy="260.07" r="1.65"/><circle cx="98.29" cy="255.04" r="1.65"/><circle cx="98.88" cy="253.27" r="1.65"/><circle cx="99.46" cy="248.91" r="1.65"/><circle cx="100.05" cy="253.45" r="1.65"/><circle cx="100.63" cy="246.35" r="1.65"/><circle cx="101.22" cy="256.25" r="1.65"/><circle cx="101.80" cy="251.01" r="1.65"/><circle cx="102.39" cy="256.65" r="1.65"/><circle cx="102.97" cy="247.27" r="1.65"/><circle cx="103.56" cy="254.41" r="1.65"/><circle cx="104.14" cy="253.51" r="1.65"/><circle cx="104.73" cy="250.24" r="1.65"/><circle cx="105.31" cy="249.14" r="1.65"/><circle cx="105.90" cy="257.01" r="1.65"/><circle cx="106.48" cy="254.47" r="1.65"/><circle cx="107.07" cy="257.95" r="1.65"/><circle cx="107.65" cy="252.86" r="1.65"/><circle cx="108.24" cy="253.65" r="1.65"/><circle cx="108.82" cy="254.48" r="1.65"/><circle cx="109.41" cy="255.59" r="1.65"/><circle cx="109.99" cy="254.60" r="1.65"/><circle cx="110.58" cy="255.80" r="1.65"/><circle cx="111.16" cy="251.56" r="1.65"/><circle cx="111.75" cy="248.27" r="1.65"/><circle cx="112.33" cy="259.73" r="1.65"/><circle cx="112.92" cy="253.70" r="1.65"/><circle cx="113.50" cy="254.71" r="1.65"/><circle cx="114.09" cy="251.68" r="1.65"/><circle cx="114.67" cy="256.48" r="1.65"/><circle cx="115.26" cy="253.80" r="1.65"/><circle cx="115.84" cy="256.77" r="1.65"/><circle cx="116.43" cy="251.00" r="1.65"/><circle cx="117.01" cy="252.98" r="1.65"/><circle cx="117.60" cy="253.85" r="1.65"/><circle cx="118.18" cy="252.08" r="1.65"/><circle cx="118.77" cy="254.13" r="1.65"/><circle cx="119.35" cy="258.48" r="1.65"/><circle cx="119.94" cy="251.33" r="1.65"/><circle cx="120.52" cy="252.36" r="1.65"/><circle cx="121.11" cy="253.83" r="1.65"/><circle cx="121.69" cy="250.04" r="1.65"/><circle cx="122.28" cy="249.26" r="1.65"/><circle cx="122.87" cy="256.95" r="1.65"/><circle cx="123.45" cy="255.91" r="1.65"/><circle cx="124.04" cy="248.17" r="1.65"/><circle cx="124.62" cy="248.60" r="1.65"/><circle cx="125.21" cy="255.77" r="1.65"/><circle cx="125.79" cy="257.24" r="1.65"/><circle cx="126.38" cy="255.43" r="1.65"/><circle cx="126.96" cy="254.97" r="1.65"/><circle cx="127.55" cy="258.58" r="1.65"/><circle cx="128.13" cy="253.21" r="1.65"/><circle cx="128.72" cy="257.57" r="1.65"/><circle cx="129.30" cy="257.34" r="1.65"/><circle cx="129.89" cy="250.27" r="1.65"/><circle cx="130.47" cy="255.59" r="1.65"/><circle cx="131.06" cy="253.55" r="1.65"/><circle cx="131.64" cy="251.22" r="1.65"/><circle cx="132.23" cy="250.61" r="1.65"/><circle cx="132.81" cy="254.44" r="1.65"/><circle cx="133.40" cy="253.17" r="1.65"/><circle cx="133.98" cy="256.06" r="1.65"/><circle cx="134.57" cy="247.50" r="1.65"/><circle cx="135.15" cy="251.15" r="1.65"/><circle cx="135.74" cy="256.98" r="1.65"/><circle cx="136.32" cy="253.30" r="1.65"/><circle cx="136.91" cy="250.94" r="1.65"/><circle cx="137.49" cy="251.72" r="1.65"/><circle cx="138.08" cy="247.23" r="1.65"/><circle cx="138.66" cy="248.75" r="1.65"/><circle cx="139.25" cy="255.11" r="1.65"/><circle cx="139.83" cy="253.61" r="1.65"/><circle cx="140.42" cy="257.58" r="1.65"/><circle cx="141.00" cy="252.49" r="1.65"/><circle cx="141.59" cy="252.81" r="1.65"/><circle cx="142.17" cy="244.33" r="1.65"/><circle cx="142.76" cy="252.99" r="1.65"/><circle cx="143.34" cy="260.28" r="1.65"/><circle cx="143.93" cy="255.55" r="1.65"/><circle cx="144.51" cy="252.94" r="1.65"/><circle cx="145.10" cy="257.49" r="1.65"/><circle cx="145.68" cy="256.20" r="1.65"/><circle cx="146.27" cy="254.53" r="1.65"/><circle cx="146.85" cy="252.18" r="1.65"/><circle cx="147.44" cy="253.86" r="1.65"/><circle cx="148.02" cy="256.27" r="1.65"/><circle cx="148.61" cy="250.70" r="1.65"/><circle cx="149.19" cy="255.11" r="1.65"/><circle cx="149.78" cy="254.98" r="1.65"/><circle cx="150.36" cy="257.90" r="1.65"/><circle cx="150.95" cy="255.93" r="1.65"/><circle cx="151.53" cy="251.15" r="1.65"/><circle cx="152.12" cy="258.69" r="1.65"/><circle cx="152.70" cy="253.55" r="1.65"/><circle cx="153.29" cy="250.93" r="1.65"/><circle cx="153.87" cy="254.57" r="1.65"/><circle cx="154.46" cy="252.52" r="1.65"/><circle cx="155.04" cy="257.03" r="1.65"/><circle cx="155.63" cy="248.96" r="1.65"/><circle cx="156.21" cy="249.65" r="1.65"/><circle cx="156.80" cy="252.53" r="1.65"/><circle cx="157.38" cy="259.15" r="1.65"/><circle cx="157.97" cy="256.79" r="1.65"/><circle cx="158.55" cy="250.07" r="1.65"/><circle cx="159.14" cy="247.62" r="1.65"/><circle cx="159.72" cy="252.33" r="1.65"/><circle cx="160.31" cy="249.17" r="1.65"/><circle cx="160.89" cy="255.34" r="1.65"/><circle cx="161.48" cy="253.94" r="1.65"/><circle cx="162.06" cy="253.31" r="1.65"/><circle cx="162.65" cy="251.91" r="1.65"/><circle cx="163.23" cy="258.40" r="1.65"/><circle cx="163.82" cy="250.19" r="1.65"/><circle cx="164.40" cy="248.92" r="1.65"/><circle cx="164.99" cy="257.13" r="1.65"/><circle cx="165.57" cy="257.82" r="1.65"/><circle cx="166.16" cy="252.15" r="1.65"/><circle cx="166.74" cy="255.49" r="1.65"/><circle cx="167.33" cy="261.20" r="1.65"/><circle cx="167.91" cy="250.63" r="1.65"/><circle cx="168.50" cy="252.80" r="1.65"/><circle cx="169.08" cy="254.90" r="1.65"/><circle cx="169.67" cy="246.29" r="1.65"/><circle cx="170.25" cy="252.85" r="1.65"/><circle cx="170.84" cy="255.82" r="1.65"/><circle cx="171.43" cy="252.98" r="1.65"/><circle cx="172.01" cy="256.77" r="1.65"/><circle cx="172.60" cy="255.85" r="1.65"/><circle cx="173.18" cy="252.03" r="1.65"/><circle cx="173.77" cy="255.16" r="1.65"/><circle cx="174.35" cy="254.81" r="1.65"/><circle cx="174.94" cy="247.77" r="1.65"/><circle cx="175.52" cy="250.46" r="1.65"/><circle cx="176.11" cy="250.65" r="1.65"/><circle cx="176.69" cy="251.56" r="1.65"/><circle cx="177.28" cy="251.71" r="1.65"/><circle cx="177.86" cy="248.47" r="1.65"/><circle cx="178.45" cy="253.38" r="1.65"/><circle cx="179.03" cy="247.15" r="1.65"/><circle cx="179.62" cy="256.48" r="1.65"/><circle cx="180.20" cy="254.16" r="1.65"/><circle cx="180.79" cy="257.90" r="1.65"/><circle cx="181.37" cy="254.46" r="1.65"/><circle cx="181.96" cy="251.59" r="1.65"/><circle cx="182.54" cy="248.49" r="1.65"/><circle cx="183.13" cy="255.52" r="1.65"/><circle cx="183.71" cy="253.30" r="1.65"/><circle cx="184.30" cy="254.51" r="1.65"/><circle cx="184.88" cy="255.77" r="1.65"/><circle cx="185.47" cy="257.27" r="1.65"/><circle cx="186.05" cy="253.11" r="1.65"/><circle cx="186.64" cy="259.07" r="1.65"/><circle cx="187.22" cy="252.95" r="1.65"/><circle cx="187.81" cy="253.25" r="1.65"/><circle cx="188.39" cy="255.50" r="1.65"/><circle cx="188.98" cy="256.68" r="1.65"/><circle cx="189.56" cy="257.92" r="1.65"/><circle cx="190.15" cy="247.09" r="1.65"/><circle cx="190.73" cy="257.78" r="1.65"/><circle cx="191.32" cy="248.14" r="1.65"/><circle cx="191.90" cy="251.32" r="1.65"/><circle cx="192.49" cy="254.53" r="1.65"/><circle cx="193.07" cy="257.16" r="1.65"/><circle cx="193.66" cy="249.85" r="1.65"/><circle cx="194.24" cy="247.56" r="1.65"/><circle cx="194.83" cy="256.42" r="1.65"/><circle cx="195.41" cy="254.31" r="1.65"/><circle cx="196.00" cy="249.82" r="1.65"/><circle cx="196.58" cy="252.20" r="1.65"/><circle cx="197.17" cy="246.67" r="1.65"/><circle cx="197.75" cy="255.21" r="1.65"/><circle cx="198.34" cy="251.51" r="1.65"/><circle cx="198.92" cy="257.47" r="1.65"/><circle cx="199.51" cy="246.35" r="1.65"/><circle cx="200.09" cy="255.74" r="1.65"/><circle cx="200.68" cy="260.66" r="1.65"/><circle cx="201.26" cy="253.73" r="1.65"/><circle cx="201.85" cy="253.78" r="1.65"/><circle cx="202.43" cy="246.95" r="1.65"/><circle cx="203.02" cy="254.44" r="1.65"/><circle cx="203.60" cy="253.36" r="1.65"/><circle cx="204.19" cy="251.34" r="1.65"/><circle cx="204.77" cy="248.04" r="1.65"/><circle cx="205.36" cy="253.53" r="1.65"/><circle cx="205.94" cy="249.86" r="1.65"/><circle cx="206.53" cy="251.61" r="1.65"/><circle cx="207.11" cy="254.38" r="1.65"/><circle cx="207.70" cy="253.43" r="1.65"/><circle cx="208.28" cy="254.65" r="1.65"/><circle cx="208.87" cy="260.95" r="1.65"/><circle cx="209.45" cy="261.60" r="1.65"/><circle cx="210.04" cy="285.63" r="1.65"/><circle cx="210.62" cy="301.66" r="1.65"/><circle cx="211.21" cy="332.70" r="1.65"/><circle cx="211.79" cy="363.02" r="1.65"/><circle cx="212.38" cy="377.36" r="1.65"/><circle cx="212.96" cy="367.20" r="1.65"/><circle cx="213.55" cy="340.08" r="1.65"/><circle cx="214.13" cy="308.78" r="1.65"/><circle cx="214.72" cy="284.73" r="1.65"/><circle cx="215.30" cy="266.94" r="1.65"/><circle cx="215.89" cy="267.61" r="1.65"/><circle cx="216.47" cy="270.91" r="1.65"/><circle cx="217.06" cy="292.70" r="1.65"/><circle cx="217.64" cy="308.30" r="1.65"/><circle cx="218.23" cy="334.88" r="1.65"/><circle cx="218.81" cy="352.99" r="1.65"/><circle cx="219.40" cy="348.16" r="1.65"/><circle cx="219.99" cy="334.11" r="1.65"/><circle cx="220.57" cy="321.33" r="1.65"/><circle cx="221.16" cy="287.93" r="1.65"/><circle cx="221.74" cy="275.62" r="1.65"/><circle cx="222.33" cy="257.73" r="1.65"/><circle cx="222.91" cy="249.35" r="1.65"/><circle cx="223.50" cy="258.99" r="1.65"/><circle cx="224.08" cy="258.00" r="1.65"/><circle cx="224.67" cy="260.30" r="1.65"/><circle cx="225.25" cy="259.24" r="1.65"/><circle cx="225.84" cy="258.85" r="1.65"/><circle cx="226.42" cy="256.99" r="1.65"/><circle cx="227.01" cy="264.65" r="1.65"/><circle cx="227.59" cy="256.16" r="1.65"/><circle cx="228.18" cy="264.49" r="1.65"/><circle cx="228.76" cy="260.46" r="1.65"/><circle cx="229.35" cy="257.49" r="1.65"/><circle cx="229.93" cy="258.80" r="1.65"/><circle cx="230.52" cy="263.88" r="1.65"/><circle cx="231.10" cy="262.33" r="1.65"/><circle cx="231.69" cy="260.38" r="1.65"/><circle cx="232.27" cy="257.62" r="1.65"/><circle cx="232.86" cy="252.48" r="1.65"/><circle cx="233.44" cy="260.53" r="1.65"/><circle cx="234.03" cy="257.17" r="1.65"/><circle cx="234.61" cy="263.74" r="1.65"/><circle cx="235.20" cy="277.37" r="1.65"/><circle cx="235.78" cy="297.40" r="1.65"/><circle cx="236.37" cy="315.71" r="1.65"/><circle cx="236.95" cy="335.25" r="1.65"/><circle cx="237.54" cy="337.24" r="1.65"/><circle cx="238.12" cy="326.98" r="1.65"/><circle cx="238.71" cy="302.48" r="1.65"/><circle cx="239.29" cy="293.36" r="1.65"/><circle cx="239.88" cy="266.35" r="1.65"/><circle cx="240.46" cy="261.62" r="1.65"/><circle cx="241.05" cy="256.93" r="1.65"/><circle cx="241.63" cy="257.35" r="1.65"/><circle cx="242.22" cy="259.73" r="1.65"/><circle cx="242.80" cy="254.63" r="1.65"/><circle cx="243.39" cy="255.61" r="1.65"/><circle cx="243.97" cy="251.67" r="1.65"/><circle cx="244.56" cy="258.21" r="1.65"/><circle cx="245.14" cy="248.55" r="1.65"/><circle cx="245.73" cy="252.41" r="1.65"/><circle cx="246.31" cy="254.14" r="1.65"/><circle cx="246.90" cy="255.67" r="1.65"/><circle cx="247.48" cy="255.93" r="1.65"/><circle cx="248.07" cy="257.07" r="1.65"/><circle cx="248.65" cy="255.12" r="1.65"/><circle cx="249.24" cy="253.29" r="1.65"/><circle cx="249.82" cy="253.90" r="1.65"/><circle cx="250.41" cy="258.02" r="1.65"/><circle cx="250.99" cy="254.20" r="1.65"/><circle cx="251.58" cy="256.28" r="1.65"/><circle cx="252.16" cy="252.78" r="1.65"/><circle cx="252.75" cy="247.12" r="1.65"/><circle cx="253.33" cy="251.24" r="1.65"/><circle cx="253.92" cy="254.36" r="1.65"/><circle cx="254.50" cy="258.72" r="1.65"/><circle cx="255.09" cy="258.02" r="1.65"/><circle cx="255.67" cy="258.92" r="1.65"/><circle cx="256.26" cy="250.90" r="1.65"/><circle cx="256.84" cy="255.86" r="1.65"/><circle cx="257.43" cy="253.11" r="1.65"/><circle cx="258.01" cy="255.38" r="1.65"/><circle cx="258.60" cy="253.01" r="1.65"/><circle cx="259.18" cy="248.65" r="1.65"/><circle cx="259.77" cy="255.59" r="1.65"/><circle cx="260.35" cy="254.45" r="1.65"/><circle cx="260.94" cy="256.00" r="1.65"/><circle cx="261.52" cy="250.41" r="1.65"/><circle cx="262.11" cy="256.73" r="1.65"/><circle cx="262.69" cy="257.08" r="1.65"/><circle cx="263.28" cy="257.93" r="1.65"/><circle cx="263.86" cy="258.00" r="1.65"/><circle cx="264.45" cy="251.75" r="1.65"/><circle cx="265.03" cy="244.77" r="1.65"/><circle cx="265.62" cy="256.62" r="1.65"/><circle cx="266.20" cy="250.15" r="1.65"/><circle cx="266.79" cy="252.48" r="1.65"/><circle cx="267.37" cy="256.98" r="1.65"/><circle cx="267.96" cy="254.24" r="1.65"/><circle cx="268.55" cy="254.09" r="1.65"/><circle cx="269.13" cy="255.61" r="1.65"/><circle cx="269.72" cy="246.90" r="1.65"/><circle cx="270.30" cy="259.65" r="1.65"/><circle cx="270.89" cy="252.05" r="1.65"/><circle cx="271.47" cy="252.21" r="1.65"/><circle cx="272.06" cy="255.24" r="1.65"/><circle cx="272.64" cy="252.82" r="1.65"/></g>
<line x1="80.1" y1="388.6" x2="80.1" y2="386" stroke="#333" stroke-width="1.2"/>
<line x1="80.1" y1="236" x2="80.1" y2="238.6" stroke="#333" stroke-width="1.2"/>
<text x="80.1" y="402.7" font-family='"Liberation Sans", sans-serif' font-size="11.5" font-weight="bold" text-anchor="middle" stroke="#000" stroke-width="0.2">2.869</text>
<line x1="121.9" y1="388.6" x2="121.9" y2="386" stroke="#333" stroke-width="1.2"/>
<line x1="121.9" y1="236" x2="121.9" y2="238.6" stroke="#333" stroke-width="1.2"/>
<text x="121.9" y="402.7" font-family='"Liberation Sans", sans-serif' font-size="11.5" font-weight="bold" text-anchor="middle" stroke="#000" stroke-width="0.2">2.872</text>
<line x1="163.7" y1="388.6" x2="163.7" y2="386" stroke="#333" stroke-width="1.2"/>
<line x1="163.7" y1="236" x2="163.7" y2="238.6" stroke="#333" stroke-width="1.2"/>
<text x="163.7" y="402.7" font-family='"Liberation Sans", sans-serif' font-size="11.5" font-weight="bold" text-anchor="middle" stroke="#000" stroke-width="0.2">2.875</text>
<line x1="205.5" y1="388.6" x2="205.5" y2="386" stroke="#333" stroke-width="1.2"/>
<line x1="205.5" y1="236" x2="205.5" y2="238.6" stroke="#333" stroke-width="1.2"/>
<text x="205.5" y="402.7" font-family='"Liberation Sans", sans-serif' font-size="11.5" font-weight="bold" text-anchor="middle" stroke="#000" stroke-width="0.2">2.878</text>
<line x1="247.3" y1="388.6" x2="247.3" y2="386" stroke="#333" stroke-width="1.2"/>
<line x1="247.3" y1="236" x2="247.3" y2="238.6" stroke="#333" stroke-width="1.2"/>
<text x="247.3" y="402.7" font-family='"Liberation Sans", sans-serif' font-size="11.5" font-weight="bold" text-anchor="middle" stroke="#000" stroke-width="0.2">2.881</text>
<line x1="53.4" y1="255.5" x2="56" y2="255.5" stroke="#333" stroke-width="1.2"/>
<line x1="272.7" y1="255.5" x2="270.1" y2="255.5" stroke="#333" stroke-width="1.2"/>
<text x="49.5" y="259.6" font-family='"Liberation Sans", sans-serif' font-size="11.5" font-weight="bold" text-anchor="end" stroke="#000" stroke-width="0.2">1.00</text>
<line x1="53.4" y1="293.5" x2="56" y2="293.5" stroke="#333" stroke-width="1.2"/>
<line x1="272.7" y1="293.5" x2="270.1" y2="293.5" stroke="#333" stroke-width="1.2"/>
<text x="49.5" y="297.6" font-family='"Liberation Sans", sans-serif' font-size="11.5" font-weight="bold" text-anchor="end" stroke="#000" stroke-width="0.2">0.96</text>
<line x1="53.4" y1="331.5" x2="56" y2="331.5" stroke="#333" stroke-width="1.2"/>
<line x1="272.7" y1="331.5" x2="270.1" y2="331.5" stroke="#333" stroke-width="1.2"/>
<text x="49.5" y="335.6" font-family='"Liberation Sans", sans-serif' font-size="11.5" font-weight="bold" text-anchor="end" stroke="#000" stroke-width="0.2">0.92</text>
<line x1="53.4" y1="369.5" x2="56" y2="369.5" stroke="#333" stroke-width="1.2"/>
<line x1="272.7" y1="369.5" x2="270.1" y2="369.5" stroke="#333" stroke-width="1.2"/>
<text x="49.5" y="373.6" font-family='"Liberation Sans", sans-serif' font-size="11.5" font-weight="bold" text-anchor="end" stroke="#000" stroke-width="0.2">0.88</text>
<text x="89.2" y="421.3" font-family='"Liberation Sans", sans-serif' font-size="11.6" font-weight="bold" textLength="148.8" lengthAdjust="spacingAndGlyphs" stroke="#000" stroke-width="0.2">Transition frequency (GHz)</text>
<text transform="translate(15.8,313.4) rotate(-90)" font-family='"Liberation Sans", sans-serif' font-size="11.55" font-weight="bold" text-anchor="middle" stroke="#000" stroke-width="0.2">Norm. fluorescence</text>
<line x1="99" y1="292.8" x2="206" y2="292.8" stroke="#22b04a" stroke-width="1.8"/>
<path d="M95.4,292.8 L100.2,290.4 L100.2,295.2 Z" fill="#22b04a"/>
<path d="M209.8,292.8 L205,290.4 L205,295.2 Z" fill="#22b04a"/>
<line x1="88.9" y1="301.6" x2="217.2" y2="301.6" stroke="#444" stroke-width="1.3"/><path d="M87.9,301.6 L92.9,298.70000000000005 L90.9,301.6 L92.9,304.5 Z" fill="#444"/><path d="M218.2,301.6 L213.2,298.70000000000005 L215.2,301.6 L213.2,304.5 Z" fill="#444"/>
<line x1="69.1" y1="329.5" x2="234.5" y2="329.5" stroke="#444" stroke-width="1.3"/><path d="M68.1,329.5 L73.1,326.6 L71.1,329.5 L73.1,332.4 Z" fill="#444"/><path d="M235.5,329.5 L230.5,326.6 L232.5,329.5 L230.5,332.4 Z" fill="#444"/>
<text x="157.7" y="284.6" font-family='"Liberation Serif", serif' font-size="10" font-weight="bold" fill="#22b04a" textLength="19" lengthAdjust="spacingAndGlyphs" stroke="#22b04a" stroke-width="0.3">~2Π</text>
<path d="M179.40,282.50 L179.40,286.70 M177.20,286.20 L181.60,286.20" stroke="#22b04a" stroke-width="1.0" fill="none"/>
<text x="101.9" y="318.2" font-family='"Liberation Serif", serif' font-size="10" font-weight="bold" textLength="6.1" lengthAdjust="spacingAndGlyphs" stroke="#000" stroke-width="0.3">~</text>
<text x="110.9" y="318.7" font-family='"Liberation Serif", serif' font-size="10" font-weight="bold" textLength="4.6" lengthAdjust="spacingAndGlyphs" stroke="#000" stroke-width="0.3">2</text>
<path d="M116.3,320.2 L117.6,319.4 L120.2,325.2 L121.9,304.3 L175.4,304.3" stroke="#111" stroke-width="0.9" fill="none" stroke-linejoin="miter"/>
<line x1="117.6" y1="319.6" x2="120.2" y2="325.2" stroke="#111" stroke-width="1.6"/>
<text x="124.2" y="319.5" font-family='"Liberation Serif", serif' font-size="10" font-weight="bold" textLength="1.6" lengthAdjust="spacingAndGlyphs" stroke="#000" stroke-width="0.3">|</text>
<text x="126.7" y="318.7" font-family='"Liberation Serif", serif' font-size="10" font-weight="bold" font-style="italic" textLength="7" lengthAdjust="spacingAndGlyphs" stroke="#000" stroke-width="0.3">A</text>
<text x="133.2" y="320.3" font-family='"Liberation Serif", serif' font-size="6.3" font-weight="bold" font-style="italic" textLength="9.8" lengthAdjust="spacingAndGlyphs" stroke="#000" stroke-width="0.3">HF</text>
<text x="144.4" y="319.5" font-family='"Liberation Serif", serif' font-size="10" font-weight="bold" textLength="1.6" lengthAdjust="spacingAndGlyphs" stroke="#000" stroke-width="0.3">|</text>
<text x="147.2" y="315.2" font-family='"Liberation Serif", serif' font-size="6.5" font-weight="bold" textLength="3.5" lengthAdjust="spacingAndGlyphs" stroke="#000" stroke-width="0.3">2</text>
<text x="155" y="318.5" font-family='"Liberation Serif", serif' font-size="10" font-weight="bold" textLength="5.2" lengthAdjust="spacingAndGlyphs" stroke="#000" stroke-width="0.3">+</text>
<text x="163.7" y="318.7" font-family='"Liberation Serif", serif' font-size="8.4" font-weight="bold" textLength="5.6" lengthAdjust="spacingAndGlyphs" stroke="#000" stroke-width="0.3">Π</text>
<text x="170.7" y="315.2" font-family='"Liberation Serif", serif' font-size="6.5" font-weight="bold" textLength="3.9" lengthAdjust="spacingAndGlyphs" stroke="#000" stroke-width="0.3">2</text>
<path d="M172.50,318.20 L172.50,321.30 M170.60,320.85 L174.40,320.85" stroke="#000" stroke-width="0.9" fill="none"/>
<text x="90.6" y="346.7" font-family='"Liberation Serif", serif' font-size="10" font-weight="bold" textLength="5.5" lengthAdjust="spacingAndGlyphs" stroke="#000" stroke-width="0.3">~</text>
<text x="99.5" y="347.2" font-family='"Liberation Serif", serif' font-size="10" font-weight="bold" textLength="4.7" lengthAdjust="spacingAndGlyphs" stroke="#000" stroke-width="0.3">2</text>
<path d="M104.7,348.6 L106,347.8 L108.4,353.5 L110.4,332.5 L178,332.5" stroke="#111" stroke-width="0.9" fill="none" stroke-linejoin="miter"/>
<line x1="106" y1="348" x2="108.4" y2="353.5" stroke="#111" stroke-width="1.6"/>
<text x="112.5" y="348.09999999999997" font-family='"Liberation Serif", serif' font-size="10" font-weight="bold" textLength="2.8" lengthAdjust="spacingAndGlyphs" stroke="#000" stroke-width="0.3">(</text>
<text x="115.7" y="347.2" font-family='"Liberation Serif", serif' font-size="10" font-weight="bold" textLength="4.7" lengthAdjust="spacingAndGlyphs" stroke="#000" stroke-width="0.3">2</text>
<text x="120.9" y="348.0" font-family='"Liberation Serif", serif' font-size="10" font-weight="bold" textLength="1.6" lengthAdjust="spacingAndGlyphs" stroke="#000" stroke-width="0.3">|</text>
<text x="123.5" y="347.2" font-family='"Liberation Serif", serif' font-size="10" font-weight="bold" font-style="italic" textLength="7.5" lengthAdjust="spacingAndGlyphs" stroke="#000" stroke-width="0.3">A</text>
<text x="131.8" y="349.0" font-family='"Liberation Serif", serif' font-size="6.3" font-weight="bold" font-style="italic" textLength="10.3" lengthAdjust="spacingAndGlyphs" stroke="#000" stroke-width="0.3">HF</text>
<text x="143.3" y="348.0" font-family='"Liberation Serif", serif' font-size="10" font-weight="bold" textLength="1.6" lengthAdjust="spacingAndGlyphs" stroke="#000" stroke-width="0.3">|</text>
<text x="145" y="348.09999999999997" font-family='"Liberation Serif", serif' font-size="10" font-weight="bold" textLength="2.8" lengthAdjust="spacingAndGlyphs" stroke="#000" stroke-width="0.3">)</text>
<text x="149.8" y="344.1" font-family='"Liberation Serif", serif' font-size="6.5" font-weight="bold" textLength="3.2" lengthAdjust="spacingAndGlyphs" stroke="#000" stroke-width="0.3">2</text>
<text x="156.7" y="347.0" font-family='"Liberation Serif", serif' font-size="10" font-weight="bold" textLength="6" lengthAdjust="spacingAndGlyphs" stroke="#000" stroke-width="0.3">+</text>
<text x="166.3" y="347.2" font-family='"Liberation Serif", serif' font-size="8.4" font-weight="bold" textLength="5.7" lengthAdjust="spacingAndGlyphs" stroke="#000" stroke-width="0.3">Π</text>
<text x="172.6" y="343.2" font-family='"Liberation Serif", serif' font-size="6.5" font-weight="bold" textLength="4.1" lengthAdjust="spacingAndGlyphs" stroke="#000" stroke-width="0.3">2</text>
<path d="M175.15,345.80 L175.15,349.70 M173.10,349.25 L177.20,349.25" stroke="#000" stroke-width="0.9" fill="none"/>
<text x="159.9" y="376" font-family='"Liberation Serif", serif' font-size="10" font-weight="bold" fill="#ff1a1a" textLength="5.8" lengthAdjust="spacingAndGlyphs" stroke="#ff1a1a" stroke-width="0.3">Π</text>
<rect x="166.3" y="372.8" width="1.1" height="5.8" fill="#ff1a1a"/><rect x="168.0" y="372.8" width="1.1" height="5.8" fill="#ff1a1a"/>
<text x="221.7" y="367.5" font-family='"Liberation Serif", serif' font-size="10.5" font-weight="bold" textLength="49.5" lengthAdjust="spacingAndGlyphs" stroke="#000" stroke-width="0.3">B ≈ 0. 76 G</text>
<line x1="153.5" y1="236" x2="153.5" y2="389" stroke="#ff1a1a" stroke-width="2" stroke-dasharray="4.3,2.1"/></svg></body></html>
